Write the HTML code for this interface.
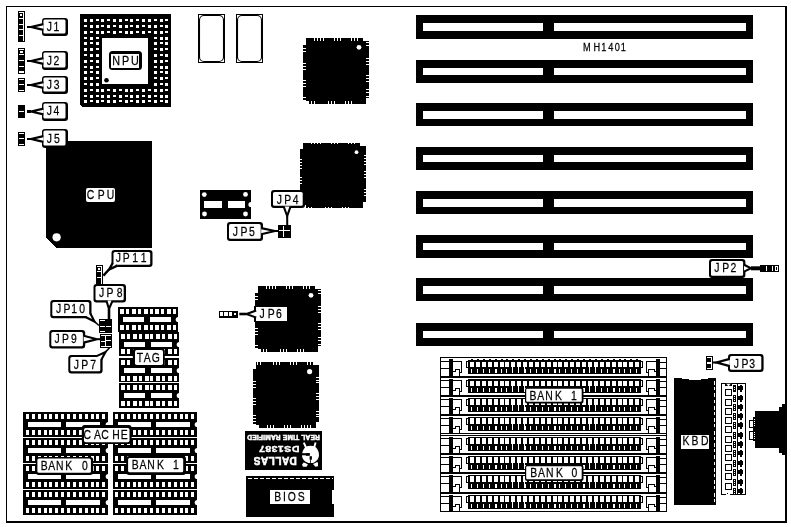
<!DOCTYPE html>
<html lang="en">
<head>
<meta charset="utf-8">
<title>MH1401 motherboard layout</title>
<style>
html,body{margin:0;padding:0;background:#fff;}
body{width:791px;height:527px;overflow:hidden;}
svg{display:block;filter:grayscale(1);}
svg text{font-family:"Liberation Sans",sans-serif;}
</style>
</head>
<body>
<svg width="791" height="527" viewBox="0 0 791 527" shape-rendering="crispEdges">
<rect x="0" y="0" width="791" height="527" fill="#fff"/>
<rect x="6" y="6" width="781" height="517" fill="#000" />
<rect x="7" y="7" width="778" height="514" fill="#fff" />
<path d="M46,141H152V248H56L46,238Z" fill="#000" stroke="none" stroke-width="1" />
<rect x="18" y="11" width="7" height="31" fill="#000" />
<rect x="23" y="12" width="1" height="29" fill="#fff" />
<rect x="19" y="12" width="4" height="1" fill="#fff" />
<rect x="20" y="14" width="2" height="2" fill="#fff" />
<rect x="19" y="18" width="5" height="1" fill="#fff" />
<rect x="19" y="24" width="5" height="1" fill="#fff" />
<rect x="19" y="29" width="5" height="1" fill="#fff" />
<rect x="19" y="35" width="5" height="1" fill="#fff" />
<rect x="18" y="48" width="7" height="26" fill="#000" />
<rect x="19" y="49" width="5" height="1" fill="#fff" />
<rect x="19" y="54" width="5" height="1" fill="#fff" />
<rect x="19" y="60" width="5" height="1" fill="#fff" />
<rect x="19" y="66" width="5" height="1" fill="#fff" />
<rect x="19" y="71" width="5" height="1" fill="#fff" />
<rect x="19" y="49" width="5" height="1" fill="#fff" />
<rect x="19" y="50" width="5" height="4" fill="#000" />
<rect x="20" y="51" width="3" height="2" fill="#fff" />
<rect x="19" y="72" width="5" height="1" fill="#fff" />
<rect x="18" y="78" width="7" height="14" fill="#000" />
<rect x="19" y="79" width="5" height="1" fill="#fff" />
<rect x="19" y="84" width="5" height="1" fill="#fff" />
<rect x="19" y="90" width="5" height="1" fill="#fff" />
<rect x="18" y="105" width="7" height="13" fill="#000" />
<rect x="19" y="111" width="5" height="1" fill="#fff" />
<rect x="18" y="132" width="7" height="14" fill="#000" />
<rect x="19" y="133" width="5" height="1" fill="#fff" />
<rect x="19" y="138" width="5" height="1" fill="#fff" />
<rect x="19" y="144" width="5" height="1" fill="#fff" />
<rect x="42" y="18" width="26" height="18" rx="3" fill="#000" shape-rendering="auto"/>
<rect x="43.4" y="19.4" width="22.1" height="14.1" rx="1.5" fill="#fff" shape-rendering="auto"/>
<polygon points="43.4,24.1 31,27 43.4,29.9" fill="#fff" shape-rendering="auto"/>
<polyline points="43.4,24.1 31,27 43.4,29.9" fill="none" stroke="#000" stroke-width="2.3" stroke-linejoin="miter" shape-rendering="auto"/>
<line x1="31" y1="27" x2="27" y2="27" stroke="#000" stroke-width="2" shape-rendering="auto"/>
<text transform="scale(0.8,1)" x="61.81 70.62" y="30.9" font-size="13" fill="#000" text-anchor="middle" stroke="#000" stroke-width="0.25">J1</text>
<rect x="42" y="51" width="26" height="19" rx="3" fill="#000" shape-rendering="auto"/>
<rect x="43.4" y="52.4" width="22.1" height="15.1" rx="1.5" fill="#fff" shape-rendering="auto"/>
<polygon points="43.4,58.1 31,61 43.4,63.9" fill="#fff" shape-rendering="auto"/>
<polyline points="43.4,58.1 31,61 43.4,63.9" fill="none" stroke="#000" stroke-width="2.3" stroke-linejoin="miter" shape-rendering="auto"/>
<line x1="31" y1="61" x2="27" y2="61" stroke="#000" stroke-width="2" shape-rendering="auto"/>
<text transform="scale(0.8,1)" x="61.81 70.62" y="64.8" font-size="13" fill="#000" text-anchor="middle" stroke="#000" stroke-width="0.25">J2</text>
<rect x="42" y="76" width="26" height="18" rx="3" fill="#000" shape-rendering="auto"/>
<rect x="43.4" y="77.4" width="22.1" height="14.1" rx="1.5" fill="#fff" shape-rendering="auto"/>
<polygon points="43.4,82.1 31,85 43.4,87.9" fill="#fff" shape-rendering="auto"/>
<polyline points="43.4,82.1 31,85 43.4,87.9" fill="none" stroke="#000" stroke-width="2.3" stroke-linejoin="miter" shape-rendering="auto"/>
<line x1="31" y1="85" x2="27" y2="85" stroke="#000" stroke-width="2" shape-rendering="auto"/>
<text transform="scale(0.8,1)" x="61.81 70.88" y="88.7" font-size="13" fill="#000" text-anchor="middle" stroke="#000" stroke-width="0.25">J3</text>
<rect x="42" y="102" width="26" height="19" rx="3" fill="#000" shape-rendering="auto"/>
<rect x="43.4" y="103.4" width="22.1" height="15.1" rx="1.5" fill="#fff" shape-rendering="auto"/>
<polygon points="43.4,108.6 31,111.5 43.4,114.4" fill="#fff" shape-rendering="auto"/>
<polyline points="43.4,108.6 31,111.5 43.4,114.4" fill="none" stroke="#000" stroke-width="2.3" stroke-linejoin="miter" shape-rendering="auto"/>
<line x1="31" y1="111.5" x2="27" y2="111.5" stroke="#000" stroke-width="3" shape-rendering="auto"/>
<text transform="scale(0.8,1)" x="61.81 70.50" y="115" font-size="13" fill="#000" text-anchor="middle" stroke="#000" stroke-width="0.25">J4</text>
<rect x="42" y="129" width="26" height="19" rx="3" fill="#000" shape-rendering="auto"/>
<rect x="43.4" y="130.4" width="22.1" height="15.1" rx="1.5" fill="#fff" shape-rendering="auto"/>
<polygon points="43.4,136.1 31,139 43.4,141.9" fill="#fff" shape-rendering="auto"/>
<polyline points="43.4,136.1 31,139 43.4,141.9" fill="none" stroke="#000" stroke-width="2.3" stroke-linejoin="miter" shape-rendering="auto"/>
<line x1="31" y1="139" x2="27" y2="139" stroke="#000" stroke-width="2" shape-rendering="auto"/>
<text transform="scale(0.8,1)" x="61.81 71.00" y="142.8" font-size="13" fill="#000" text-anchor="middle" stroke="#000" stroke-width="0.25">J5</text>
<path d="M80,14H171V107H82L80,105Z" fill="#000" stroke="none" stroke-width="1" />
<rect x="84" y="19" width="3" height="3" fill="#fff" />
<rect x="84" y="25" width="3" height="2" fill="#fff" />
<rect x="84" y="31" width="3" height="3" fill="#fff" />
<rect x="84" y="37" width="3" height="2" fill="#fff" />
<rect x="84" y="42" width="3" height="3" fill="#fff" />
<rect x="84" y="48" width="3" height="3" fill="#fff" />
<rect x="84" y="54" width="3" height="2" fill="#fff" />
<rect x="84" y="60" width="3" height="3" fill="#fff" />
<rect x="84" y="66" width="3" height="2" fill="#fff" />
<rect x="84" y="71" width="3" height="3" fill="#fff" />
<rect x="84" y="77" width="3" height="3" fill="#fff" />
<rect x="84" y="83" width="3" height="2" fill="#fff" />
<rect x="84" y="89" width="3" height="3" fill="#fff" />
<rect x="84" y="95" width="3" height="2" fill="#fff" />
<rect x="84" y="100" width="3" height="3" fill="#fff" />
<rect x="90" y="19" width="3" height="3" fill="#fff" />
<rect x="90" y="25" width="3" height="3" fill="#fff" />
<rect x="90" y="31" width="3" height="2" fill="#fff" />
<rect x="90" y="37" width="3" height="3" fill="#fff" />
<rect x="90" y="42" width="3" height="2" fill="#fff" />
<rect x="90" y="48" width="3" height="3" fill="#fff" />
<rect x="90" y="54" width="3" height="3" fill="#fff" />
<rect x="90" y="60" width="3" height="2" fill="#fff" />
<rect x="90" y="66" width="3" height="3" fill="#fff" />
<rect x="90" y="71" width="3" height="2" fill="#fff" />
<rect x="90" y="77" width="3" height="3" fill="#fff" />
<rect x="90" y="83" width="3" height="3" fill="#fff" />
<rect x="90" y="89" width="3" height="2" fill="#fff" />
<rect x="90" y="95" width="3" height="3" fill="#fff" />
<rect x="90" y="100" width="3" height="2" fill="#fff" />
<rect x="96" y="19" width="3" height="2" fill="#fff" />
<rect x="96" y="25" width="3" height="3" fill="#fff" />
<rect x="96" y="31" width="3" height="3" fill="#fff" />
<rect x="96" y="37" width="3" height="2" fill="#fff" />
<rect x="96" y="42" width="3" height="3" fill="#fff" />
<rect x="96" y="48" width="3" height="2" fill="#fff" />
<rect x="96" y="54" width="3" height="3" fill="#fff" />
<rect x="96" y="60" width="3" height="3" fill="#fff" />
<rect x="96" y="66" width="3" height="2" fill="#fff" />
<rect x="96" y="71" width="3" height="3" fill="#fff" />
<rect x="96" y="77" width="3" height="2" fill="#fff" />
<rect x="96" y="83" width="3" height="3" fill="#fff" />
<rect x="96" y="89" width="3" height="3" fill="#fff" />
<rect x="96" y="95" width="3" height="2" fill="#fff" />
<rect x="96" y="100" width="3" height="3" fill="#fff" />
<rect x="101" y="19" width="3" height="3" fill="#fff" />
<rect x="101" y="25" width="3" height="2" fill="#fff" />
<rect x="101" y="31" width="3" height="3" fill="#fff" />
<rect x="101" y="89" width="3" height="3" fill="#fff" />
<rect x="101" y="95" width="3" height="3" fill="#fff" />
<rect x="101" y="100" width="3" height="2" fill="#fff" />
<rect x="107" y="19" width="3" height="2" fill="#fff" />
<rect x="107" y="25" width="3" height="3" fill="#fff" />
<rect x="107" y="31" width="3" height="2" fill="#fff" />
<rect x="107" y="89" width="3" height="2" fill="#fff" />
<rect x="107" y="95" width="3" height="3" fill="#fff" />
<rect x="107" y="100" width="3" height="3" fill="#fff" />
<rect x="113" y="19" width="3" height="3" fill="#fff" />
<rect x="113" y="25" width="3" height="2" fill="#fff" />
<rect x="113" y="31" width="3" height="3" fill="#fff" />
<rect x="113" y="89" width="3" height="3" fill="#fff" />
<rect x="113" y="95" width="3" height="2" fill="#fff" />
<rect x="113" y="100" width="3" height="3" fill="#fff" />
<rect x="119" y="19" width="3" height="3" fill="#fff" />
<rect x="119" y="25" width="3" height="3" fill="#fff" />
<rect x="119" y="31" width="3" height="2" fill="#fff" />
<rect x="119" y="89" width="3" height="2" fill="#fff" />
<rect x="119" y="95" width="3" height="3" fill="#fff" />
<rect x="119" y="100" width="3" height="2" fill="#fff" />
<rect x="125" y="19" width="3" height="2" fill="#fff" />
<rect x="125" y="25" width="3" height="3" fill="#fff" />
<rect x="125" y="31" width="3" height="3" fill="#fff" />
<rect x="125" y="89" width="3" height="3" fill="#fff" />
<rect x="125" y="95" width="3" height="2" fill="#fff" />
<rect x="125" y="100" width="3" height="3" fill="#fff" />
<rect x="130" y="19" width="3" height="3" fill="#fff" />
<rect x="130" y="25" width="3" height="2" fill="#fff" />
<rect x="130" y="31" width="3" height="3" fill="#fff" />
<rect x="130" y="89" width="3" height="3" fill="#fff" />
<rect x="130" y="95" width="3" height="3" fill="#fff" />
<rect x="130" y="100" width="3" height="2" fill="#fff" />
<rect x="136" y="19" width="3" height="2" fill="#fff" />
<rect x="136" y="25" width="3" height="3" fill="#fff" />
<rect x="136" y="31" width="3" height="2" fill="#fff" />
<rect x="136" y="89" width="3" height="2" fill="#fff" />
<rect x="136" y="95" width="3" height="3" fill="#fff" />
<rect x="136" y="100" width="3" height="3" fill="#fff" />
<rect x="142" y="19" width="3" height="3" fill="#fff" />
<rect x="142" y="25" width="3" height="2" fill="#fff" />
<rect x="142" y="31" width="3" height="3" fill="#fff" />
<rect x="142" y="89" width="3" height="3" fill="#fff" />
<rect x="142" y="95" width="3" height="2" fill="#fff" />
<rect x="142" y="100" width="3" height="3" fill="#fff" />
<rect x="148" y="19" width="3" height="3" fill="#fff" />
<rect x="148" y="25" width="3" height="3" fill="#fff" />
<rect x="148" y="31" width="3" height="2" fill="#fff" />
<rect x="148" y="89" width="3" height="2" fill="#fff" />
<rect x="148" y="95" width="3" height="3" fill="#fff" />
<rect x="148" y="100" width="3" height="2" fill="#fff" />
<rect x="154" y="19" width="3" height="2" fill="#fff" />
<rect x="154" y="25" width="3" height="3" fill="#fff" />
<rect x="154" y="31" width="3" height="3" fill="#fff" />
<rect x="154" y="37" width="3" height="2" fill="#fff" />
<rect x="154" y="42" width="3" height="3" fill="#fff" />
<rect x="154" y="48" width="3" height="2" fill="#fff" />
<rect x="154" y="54" width="3" height="3" fill="#fff" />
<rect x="154" y="60" width="3" height="3" fill="#fff" />
<rect x="154" y="66" width="3" height="2" fill="#fff" />
<rect x="154" y="71" width="3" height="3" fill="#fff" />
<rect x="154" y="77" width="3" height="2" fill="#fff" />
<rect x="154" y="83" width="3" height="3" fill="#fff" />
<rect x="154" y="89" width="3" height="3" fill="#fff" />
<rect x="154" y="95" width="3" height="2" fill="#fff" />
<rect x="154" y="100" width="3" height="3" fill="#fff" />
<rect x="160" y="19" width="3" height="3" fill="#fff" />
<rect x="160" y="25" width="3" height="2" fill="#fff" />
<rect x="160" y="31" width="3" height="3" fill="#fff" />
<rect x="160" y="37" width="3" height="3" fill="#fff" />
<rect x="160" y="42" width="3" height="2" fill="#fff" />
<rect x="160" y="48" width="3" height="3" fill="#fff" />
<rect x="160" y="54" width="3" height="2" fill="#fff" />
<rect x="160" y="60" width="3" height="3" fill="#fff" />
<rect x="160" y="66" width="3" height="3" fill="#fff" />
<rect x="160" y="71" width="3" height="2" fill="#fff" />
<rect x="160" y="77" width="3" height="3" fill="#fff" />
<rect x="160" y="83" width="3" height="2" fill="#fff" />
<rect x="160" y="89" width="3" height="3" fill="#fff" />
<rect x="160" y="95" width="3" height="3" fill="#fff" />
<rect x="160" y="100" width="3" height="2" fill="#fff" />
<rect x="165" y="19" width="3" height="2" fill="#fff" />
<rect x="165" y="25" width="3" height="3" fill="#fff" />
<rect x="165" y="31" width="3" height="2" fill="#fff" />
<rect x="165" y="37" width="3" height="3" fill="#fff" />
<rect x="165" y="42" width="3" height="3" fill="#fff" />
<rect x="165" y="48" width="3" height="2" fill="#fff" />
<rect x="165" y="54" width="3" height="3" fill="#fff" />
<rect x="165" y="60" width="3" height="2" fill="#fff" />
<rect x="165" y="66" width="3" height="3" fill="#fff" />
<rect x="165" y="71" width="3" height="3" fill="#fff" />
<rect x="165" y="77" width="3" height="2" fill="#fff" />
<rect x="165" y="83" width="3" height="3" fill="#fff" />
<rect x="165" y="89" width="3" height="2" fill="#fff" />
<rect x="165" y="95" width="3" height="3" fill="#fff" />
<rect x="165" y="100" width="3" height="3" fill="#fff" />
<rect x="102" y="38" width="46" height="46" fill="#fff" />
<circle cx="106.5" cy="80.2" r="2.3" fill="#000" shape-rendering="auto"/>
<rect x="109" y="51" width="33" height="19" rx="3.5" fill="#000" shape-rendering="auto"/>
<rect x="111" y="54" width="28" height="14" fill="#fff" />
<text transform="scale(0.8,1)" x="145.12 156.94 168.75" y="64.9" font-size="13.5" fill="#000" text-anchor="middle" stroke="#000" stroke-width="0.25">NPU</text>
<rect x="198" y="14" width="27" height="49" fill="#000" />
<rect x="199" y="15" width="25" height="47" fill="#fff" />
<rect x="199.5" y="15.5" width="24" height="46" rx="4.5" fill="none" stroke="#000" stroke-width="1.1" shape-rendering="auto"/>
<rect x="236" y="14" width="27" height="49" fill="#000" />
<rect x="237" y="15" width="25" height="47" fill="#fff" />
<rect x="237.5" y="15.5" width="24" height="46" rx="4.5" fill="none" stroke="#000" stroke-width="1.1" shape-rendering="auto"/>
<path d="M306,38H363V41H369V98H366V104H309V101H306V100H303V44H306Z" fill="#000" stroke="none" stroke-width="1" />
<rect x="314" y="38" width="1" height="3" fill="#fff" />
<rect x="317" y="38" width="1" height="3" fill="#fff" />
<rect x="320" y="38" width="1" height="3" fill="#fff" />
<rect x="323" y="38" width="1" height="3" fill="#fff" />
<rect x="334" y="38" width="1" height="3" fill="#fff" />
<rect x="337" y="38" width="1" height="3" fill="#fff" />
<rect x="340" y="38" width="1" height="3" fill="#fff" />
<rect x="351" y="38" width="1" height="3" fill="#fff" />
<rect x="354" y="38" width="1" height="3" fill="#fff" />
<rect x="357" y="38" width="1" height="3" fill="#fff" />
<rect x="311" y="101" width="1" height="3" fill="#fff" />
<rect x="314" y="101" width="1" height="3" fill="#fff" />
<rect x="328" y="101" width="1" height="3" fill="#fff" />
<rect x="331" y="101" width="1" height="3" fill="#fff" />
<rect x="334" y="101" width="1" height="3" fill="#fff" />
<rect x="345" y="101" width="1" height="3" fill="#fff" />
<rect x="348" y="101" width="1" height="3" fill="#fff" />
<rect x="351" y="101" width="1" height="3" fill="#fff" />
<rect x="303" y="44" width="3" height="1" fill="#fff" />
<rect x="303" y="48" width="3" height="1" fill="#fff" />
<rect x="303" y="51" width="3" height="1" fill="#fff" />
<rect x="303" y="63" width="3" height="1" fill="#fff" />
<rect x="303" y="66" width="3" height="1" fill="#fff" />
<rect x="303" y="69" width="3" height="1" fill="#fff" />
<rect x="303" y="80" width="3" height="1" fill="#fff" />
<rect x="303" y="83" width="3" height="1" fill="#fff" />
<rect x="303" y="86" width="3" height="1" fill="#fff" />
<rect x="303" y="97" width="3" height="1" fill="#fff" />
<rect x="366" y="42" width="3" height="1" fill="#fff" />
<rect x="366" y="45" width="3" height="1" fill="#fff" />
<rect x="366" y="58" width="3" height="1" fill="#fff" />
<rect x="366" y="61" width="3" height="1" fill="#fff" />
<rect x="366" y="64" width="3" height="1" fill="#fff" />
<rect x="366" y="75" width="3" height="1" fill="#fff" />
<rect x="366" y="78" width="3" height="1" fill="#fff" />
<rect x="366" y="81" width="3" height="1" fill="#fff" />
<rect x="366" y="89" width="3" height="1" fill="#fff" />
<rect x="366" y="92" width="3" height="1" fill="#fff" />
<rect x="366" y="96" width="3" height="1" fill="#fff" />
<circle cx="359" cy="47.3" r="2.4" fill="#fff" shape-rendering="auto"/>
<path d="M303,143H360V146H366V202H363V208H306V205H303V204H300V149H303Z" fill="#000" stroke="none" stroke-width="1" />
<rect x="311" y="143" width="1" height="1" fill="#fff" />
<rect x="314" y="143" width="1" height="1" fill="#fff" />
<rect x="317" y="143" width="1" height="1" fill="#fff" />
<rect x="320" y="143" width="1" height="1" fill="#fff" />
<rect x="331" y="143" width="1" height="1" fill="#fff" />
<rect x="334" y="143" width="1" height="1" fill="#fff" />
<rect x="337" y="143" width="1" height="1" fill="#fff" />
<rect x="348" y="143" width="1" height="1" fill="#fff" />
<rect x="351" y="143" width="1" height="1" fill="#fff" />
<rect x="354" y="143" width="1" height="1" fill="#fff" />
<rect x="308" y="207" width="1" height="1" fill="#fff" />
<rect x="311" y="207" width="1" height="1" fill="#fff" />
<rect x="325" y="207" width="1" height="1" fill="#fff" />
<rect x="328" y="207" width="1" height="1" fill="#fff" />
<rect x="331" y="207" width="1" height="1" fill="#fff" />
<rect x="342" y="207" width="1" height="1" fill="#fff" />
<rect x="345" y="207" width="1" height="1" fill="#fff" />
<rect x="348" y="207" width="1" height="1" fill="#fff" />
<rect x="300" y="159" width="2" height="1" fill="#fff" />
<rect x="300" y="162" width="2" height="1" fill="#fff" />
<rect x="300" y="165" width="2" height="1" fill="#fff" />
<rect x="300" y="168" width="2" height="1" fill="#fff" />
<rect x="300" y="177" width="2" height="1" fill="#fff" />
<rect x="300" y="180" width="2" height="1" fill="#fff" />
<rect x="300" y="183" width="2" height="1" fill="#fff" />
<rect x="364" y="155" width="2" height="1" fill="#fff" />
<rect x="364" y="158" width="2" height="1" fill="#fff" />
<rect x="364" y="161" width="2" height="1" fill="#fff" />
<rect x="364" y="164" width="2" height="1" fill="#fff" />
<rect x="364" y="171" width="2" height="1" fill="#fff" />
<rect x="364" y="174" width="2" height="1" fill="#fff" />
<rect x="364" y="177" width="2" height="1" fill="#fff" />
<rect x="364" y="189" width="2" height="1" fill="#fff" />
<rect x="364" y="192" width="2" height="1" fill="#fff" />
<rect x="364" y="195" width="2" height="1" fill="#fff" />
<circle cx="356.5" cy="152.2" r="1.9" fill="#fff" shape-rendering="auto"/>
<path d="M258,286H315V289H321V346H318V352H261V349H258V348H255V292H258Z" fill="#000" stroke="none" stroke-width="1" />
<rect x="266" y="286" width="1" height="3" fill="#fff" />
<rect x="269" y="286" width="1" height="3" fill="#fff" />
<rect x="272" y="286" width="1" height="3" fill="#fff" />
<rect x="275" y="286" width="1" height="3" fill="#fff" />
<rect x="286" y="286" width="1" height="3" fill="#fff" />
<rect x="289" y="286" width="1" height="3" fill="#fff" />
<rect x="292" y="286" width="1" height="3" fill="#fff" />
<rect x="303" y="286" width="1" height="3" fill="#fff" />
<rect x="306" y="286" width="1" height="3" fill="#fff" />
<rect x="309" y="286" width="1" height="3" fill="#fff" />
<rect x="263" y="349" width="1" height="3" fill="#fff" />
<rect x="266" y="349" width="1" height="3" fill="#fff" />
<rect x="280" y="349" width="1" height="3" fill="#fff" />
<rect x="283" y="349" width="1" height="3" fill="#fff" />
<rect x="286" y="349" width="1" height="3" fill="#fff" />
<rect x="297" y="349" width="1" height="3" fill="#fff" />
<rect x="300" y="349" width="1" height="3" fill="#fff" />
<rect x="303" y="349" width="1" height="3" fill="#fff" />
<rect x="255" y="292" width="3" height="1" fill="#fff" />
<rect x="255" y="296" width="3" height="1" fill="#fff" />
<rect x="255" y="299" width="3" height="1" fill="#fff" />
<rect x="255" y="311" width="3" height="1" fill="#fff" />
<rect x="255" y="314" width="3" height="1" fill="#fff" />
<rect x="255" y="317" width="3" height="1" fill="#fff" />
<rect x="255" y="328" width="3" height="1" fill="#fff" />
<rect x="255" y="331" width="3" height="1" fill="#fff" />
<rect x="255" y="334" width="3" height="1" fill="#fff" />
<rect x="255" y="345" width="3" height="1" fill="#fff" />
<rect x="318" y="290" width="3" height="1" fill="#fff" />
<rect x="318" y="293" width="3" height="1" fill="#fff" />
<rect x="318" y="306" width="3" height="1" fill="#fff" />
<rect x="318" y="309" width="3" height="1" fill="#fff" />
<rect x="318" y="312" width="3" height="1" fill="#fff" />
<rect x="318" y="323" width="3" height="1" fill="#fff" />
<rect x="318" y="326" width="3" height="1" fill="#fff" />
<rect x="318" y="329" width="3" height="1" fill="#fff" />
<rect x="318" y="337" width="3" height="1" fill="#fff" />
<rect x="318" y="340" width="3" height="1" fill="#fff" />
<rect x="318" y="344" width="3" height="1" fill="#fff" />
<circle cx="311" cy="295.3" r="2.4" fill="#fff" shape-rendering="auto"/>
<path d="M256,362H313V365H319V422H316V428H259V425H256V424H253V368H256Z" fill="#000" stroke="none" stroke-width="1" />
<rect x="257" y="362" width="1" height="3" fill="#fff" />
<rect x="260" y="362" width="1" height="3" fill="#fff" />
<rect x="273" y="362" width="1" height="3" fill="#fff" />
<rect x="276" y="362" width="1" height="3" fill="#fff" />
<rect x="279" y="362" width="1" height="3" fill="#fff" />
<rect x="290" y="362" width="1" height="3" fill="#fff" />
<rect x="293" y="362" width="1" height="3" fill="#fff" />
<rect x="296" y="362" width="1" height="3" fill="#fff" />
<rect x="307" y="362" width="1" height="3" fill="#fff" />
<rect x="310" y="362" width="1" height="3" fill="#fff" />
<rect x="313" y="362" width="1" height="3" fill="#fff" />
<rect x="267" y="425" width="1" height="3" fill="#fff" />
<rect x="270" y="425" width="1" height="3" fill="#fff" />
<rect x="273" y="425" width="1" height="3" fill="#fff" />
<rect x="284" y="425" width="1" height="3" fill="#fff" />
<rect x="287" y="425" width="1" height="3" fill="#fff" />
<rect x="290" y="425" width="1" height="3" fill="#fff" />
<rect x="301" y="425" width="1" height="3" fill="#fff" />
<rect x="304" y="425" width="1" height="3" fill="#fff" />
<rect x="307" y="425" width="1" height="3" fill="#fff" />
<rect x="310" y="425" width="1" height="3" fill="#fff" />
<rect x="253" y="368" width="3" height="1" fill="#fff" />
<rect x="253" y="381" width="3" height="1" fill="#fff" />
<rect x="253" y="384" width="3" height="1" fill="#fff" />
<rect x="253" y="387" width="3" height="1" fill="#fff" />
<rect x="253" y="398" width="3" height="1" fill="#fff" />
<rect x="253" y="401" width="3" height="1" fill="#fff" />
<rect x="253" y="404" width="3" height="1" fill="#fff" />
<rect x="253" y="415" width="3" height="1" fill="#fff" />
<rect x="253" y="418" width="3" height="1" fill="#fff" />
<rect x="253" y="421" width="3" height="1" fill="#fff" />
<rect x="316" y="377" width="3" height="1" fill="#fff" />
<rect x="316" y="380" width="3" height="1" fill="#fff" />
<rect x="316" y="382" width="3" height="1" fill="#fff" />
<rect x="316" y="393" width="3" height="1" fill="#fff" />
<rect x="316" y="396" width="3" height="1" fill="#fff" />
<rect x="316" y="399" width="3" height="1" fill="#fff" />
<rect x="316" y="411" width="3" height="1" fill="#fff" />
<rect x="316" y="414" width="3" height="1" fill="#fff" />
<rect x="316" y="416" width="3" height="1" fill="#fff" />
<circle cx="309.6" cy="371.6" r="2.6" fill="#fff" shape-rendering="auto"/>
<circle cx="56.6" cy="237.3" r="4.1" fill="#fff" shape-rendering="auto"/>
<rect x="86" y="188" width="29" height="14" rx="2" fill="#fff" shape-rendering="auto"/>
<text transform="scale(0.8,1)" x="113.19 126.69 138.25" y="199.2" font-size="13" fill="#000" text-anchor="middle" stroke="#000" stroke-width="0.25">CPU</text>
<rect x="200" y="190" width="51" height="29" fill="#000" />
<circle cx="204.3" cy="194.6" r="2.4" fill="#fff" shape-rendering="auto"/>
<circle cx="245.5" cy="194.4" r="2.4" fill="#fff" shape-rendering="auto"/>
<circle cx="204.5" cy="214" r="2.4" fill="#fff" shape-rendering="auto"/>
<circle cx="245.5" cy="214" r="2.4" fill="#fff" shape-rendering="auto"/>
<rect x="204" y="201" width="18" height="7" fill="#fff" />
<rect x="228" y="201" width="17" height="7" fill="#fff" />
<circle cx="251" cy="204.5" r="2.6" fill="#fff" shape-rendering="auto"/>
<rect x="271" y="190" width="34" height="18" rx="3" fill="#000" shape-rendering="auto"/>
<rect x="273" y="192" width="29.7" height="13.7" rx="1.5" fill="#fff" shape-rendering="auto"/>
<polygon points="283.6,206.4 287.2,216 290.6,206.4" fill="#fff" shape-rendering="auto"/>
<polyline points="283.6,206.4 287.2,216 290.6,206.4" fill="none" stroke="#000" stroke-width="2.1" stroke-linejoin="miter" shape-rendering="auto"/>
<line x1="287.2" y1="216" x2="287.2" y2="225" stroke="#000" stroke-width="2" shape-rendering="auto"/>
<text transform="scale(0.8,1)" x="349.25 359.62 369.50" y="203.8" font-size="13" fill="#000" text-anchor="middle" stroke="#000" stroke-width="0.25">JP4</text>
<rect x="227" y="222" width="36" height="19" rx="3" fill="#000" shape-rendering="auto"/>
<rect x="229" y="224" width="31.7" height="14.7" rx="1.5" fill="#fff" shape-rendering="auto"/>
<polygon points="261.2,228.2 275,231 261.2,234.2" fill="#fff" shape-rendering="auto"/>
<polyline points="261.2,228.2 275,231 261.2,234.2" fill="none" stroke="#000" stroke-width="2.2" stroke-linejoin="miter" shape-rendering="auto"/>
<line x1="275" y1="231" x2="278" y2="231" stroke="#000" stroke-width="2" shape-rendering="auto"/>
<text transform="scale(0.8,1)" x="294.31 304.94 314.94" y="235.6" font-size="13" fill="#000" text-anchor="middle" stroke="#000" stroke-width="0.25">JP5</text>
<rect x="278" y="225" width="13" height="13" fill="#000" />
<rect x="283" y="226" width="1" height="11" fill="#fff" />
<rect x="279" y="230" width="11" height="1" fill="#fff" />
<rect x="219" y="311" width="19" height="7" fill="#000" />
<rect x="220" y="312" width="17" height="5" fill="#fff" />
<rect x="219" y="316" width="19" height="2" fill="#000" />
<rect x="223" y="312" width="1" height="4" fill="#000" />
<rect x="228" y="312" width="1" height="4" fill="#000" />
<rect x="232" y="312" width="1" height="4" fill="#000" />
<rect x="233" y="312" width="4" height="4" fill="#000" />
<rect x="234" y="313" width="2" height="2" fill="#fff" />
<rect x="254" y="306" width="2" height="16" fill="#000" />
<rect x="256" y="307" width="31" height="14" fill="#fff" />
<polygon points="256.2,310.6 246.5,314 256.2,317.6" fill="#fff" shape-rendering="auto"/>
<polyline points="256.2,310.6 246.5,314 256.2,317.6" fill="none" stroke="#000" stroke-width="2.1" stroke-linejoin="miter" shape-rendering="auto"/>
<line x1="246.5" y1="314" x2="239.3" y2="314" stroke="#000" stroke-width="2.6" shape-rendering="auto"/>
<rect x="96" y="265" width="7" height="20" fill="#000" />
<rect x="101" y="266" width="1" height="18" fill="#fff" />
<rect x="97" y="266" width="4" height="1" fill="#fff" />
<rect x="98" y="268" width="2" height="2" fill="#fff" />
<rect x="97" y="271" width="4" height="1" fill="#fff" />
<rect x="97" y="277" width="4" height="1" fill="#fff" />
<rect x="111.5" y="250" width="41" height="17" rx="3" fill="#000" shape-rendering="auto"/>
<rect x="113.5" y="252" width="36.7" height="12.7" rx="1.5" fill="#fff" shape-rendering="auto"/>
<polygon points="112.8,263 109,269.5 117.4,265.6" fill="#fff" shape-rendering="auto"/>
<polyline points="112.8,263 109,269.5 117.4,265.6" fill="none" stroke="#000" stroke-width="2.4" stroke-linejoin="miter" shape-rendering="auto"/>
<line x1="109" y1="269.5" x2="103.4" y2="275.6" stroke="#000" stroke-width="2.4" shape-rendering="auto"/>
<text transform="scale(0.8,1)" x="147.81 157.94 169.06 179.50" y="261.6" font-size="13" fill="#000" text-anchor="middle" stroke="#000" stroke-width="0.25">JP11</text>
<rect x="99" y="319" width="13" height="14" fill="#000" />
<rect x="100" y="320" width="5" height="1" fill="#fff" />
<rect x="100" y="326" width="5" height="1" fill="#fff" />
<rect x="100" y="331" width="5" height="1" fill="#fff" />
<rect x="106" y="326" width="5" height="1" fill="#fff" />
<rect x="100" y="334" width="12" height="14" fill="#000" />
<rect x="101" y="335" width="4" height="1" fill="#fff" />
<rect x="101" y="341" width="4" height="1" fill="#fff" />
<rect x="101" y="346" width="4" height="1" fill="#fff" />
<rect x="105" y="335" width="1" height="12" fill="#fff" />
<rect x="106" y="335" width="5" height="1" fill="#fff" />
<rect x="106" y="340" width="5" height="1" fill="#fff" />
<rect x="106" y="346" width="5" height="1" fill="#fff" />
<rect x="93.5" y="284" width="32.5" height="18.5" rx="3" fill="#000" shape-rendering="auto"/>
<rect x="95.5" y="286" width="28.2" height="14.2" rx="1.5" fill="#fff" shape-rendering="auto"/>
<polygon points="106.4,300.6 109,309 112.6,300.6" fill="#fff" shape-rendering="auto"/>
<polyline points="106.4,300.6 109,309 112.6,300.6" fill="none" stroke="#000" stroke-width="2.1" stroke-linejoin="miter" shape-rendering="auto"/>
<line x1="109" y1="309" x2="109" y2="319" stroke="#000" stroke-width="2.6" shape-rendering="auto"/>
<text transform="scale(0.8,1)" x="127.00 137.56 149.62" y="296.8" font-size="13" fill="#000" text-anchor="middle" stroke="#000" stroke-width="0.25">JP8</text>
<rect x="50.3" y="300" width="41.2" height="18.3" rx="3" fill="#000" shape-rendering="auto"/>
<rect x="52.3" y="302" width="36.9" height="14" rx="1.5" fill="#fff" shape-rendering="auto"/>
<polygon points="90.4,313.5 94.5,321.5 86,317.2" fill="#fff" shape-rendering="auto"/>
<polyline points="90.4,313.5 94.5,321.5 86,317.2" fill="none" stroke="#000" stroke-width="2.1" stroke-linejoin="miter" shape-rendering="auto"/>
<line x1="94.5" y1="321.5" x2="98.9" y2="325.5" stroke="#000" stroke-width="1.6" shape-rendering="auto"/>
<text transform="scale(0.8,1)" x="73.25 83.69 92.69 102.56" y="312.8" font-size="13" fill="#000" text-anchor="middle" stroke="#000" stroke-width="0.25">JP10</text>
<rect x="49.3" y="330" width="35.9" height="18.5" rx="3" fill="#000" shape-rendering="auto"/>
<rect x="51.3" y="332" width="31.6" height="14.2" rx="1.5" fill="#fff" shape-rendering="auto"/>
<polygon points="83.6,335.8 97,339.2 83.6,342.6" fill="#fff" shape-rendering="auto"/>
<polyline points="83.6,335.8 97,339.2 83.6,342.6" fill="none" stroke="#000" stroke-width="2.2" stroke-linejoin="miter" shape-rendering="auto"/>
<line x1="97" y1="339.2" x2="100" y2="339.2" stroke="#000" stroke-width="2" shape-rendering="auto"/>
<text transform="scale(0.8,1)" x="71.50 81.94 92.38" y="342.9" font-size="13" fill="#000" text-anchor="middle" stroke="#000" stroke-width="0.25">JP9</text>
<rect x="68.3" y="355" width="34.3" height="18.5" rx="3" fill="#000" shape-rendering="auto"/>
<rect x="70.3" y="357" width="30" height="14.2" rx="1.5" fill="#fff" shape-rendering="auto"/>
<polygon points="96,356.4 105.5,352 101.2,360" fill="#fff" shape-rendering="auto"/>
<polyline points="96,356.4 105.5,352 101.2,360" fill="none" stroke="#000" stroke-width="2.1" stroke-linejoin="miter" shape-rendering="auto"/>
<line x1="105.5" y1="352" x2="109.6" y2="347.8" stroke="#000" stroke-width="1.6" shape-rendering="auto"/>
<text transform="scale(0.8,1)" x="95.44 105.75 116.44" y="368.6" font-size="13" fill="#000" text-anchor="middle" stroke="#000" stroke-width="0.25">JP7</text>
<rect x="118" y="307" width="60" height="25" fill="#000" />
<rect x="120" y="309" width="4" height="5" fill="#fff" />
<rect x="120" y="325" width="4" height="5" fill="#fff" />
<rect x="126" y="309" width="3" height="5" fill="#fff" />
<rect x="126" y="325" width="3" height="5" fill="#fff" />
<rect x="132" y="309" width="4" height="5" fill="#fff" />
<rect x="132" y="325" width="4" height="5" fill="#fff" />
<rect x="138" y="309" width="3" height="5" fill="#fff" />
<rect x="138" y="325" width="3" height="5" fill="#fff" />
<rect x="144" y="309" width="4" height="5" fill="#fff" />
<rect x="144" y="325" width="4" height="5" fill="#fff" />
<rect x="150" y="309" width="3" height="5" fill="#fff" />
<rect x="150" y="325" width="3" height="5" fill="#fff" />
<rect x="155" y="309" width="4" height="5" fill="#fff" />
<rect x="155" y="325" width="4" height="5" fill="#fff" />
<rect x="161" y="309" width="3" height="5" fill="#fff" />
<rect x="161" y="325" width="3" height="5" fill="#fff" />
<rect x="167" y="309" width="4" height="5" fill="#fff" />
<rect x="167" y="325" width="4" height="5" fill="#fff" />
<rect x="173" y="309" width="3" height="5" fill="#fff" />
<rect x="173" y="325" width="3" height="5" fill="#fff" />
<rect x="123" y="317" width="21" height="5" fill="#fff" />
<rect x="150" y="317" width="21" height="5" fill="#fff" />
<circle cx="178.3" cy="319.5" r="2.6" fill="#fff" shape-rendering="auto"/>
<rect x="119" y="332" width="60" height="24" fill="#000" />
<rect x="121" y="334" width="4" height="5" fill="#fff" />
<rect x="121" y="349" width="4" height="5" fill="#fff" />
<rect x="127" y="334" width="3" height="5" fill="#fff" />
<rect x="127" y="349" width="3" height="5" fill="#fff" />
<rect x="133" y="334" width="4" height="5" fill="#fff" />
<rect x="133" y="349" width="4" height="5" fill="#fff" />
<rect x="139" y="334" width="3" height="5" fill="#fff" />
<rect x="139" y="349" width="3" height="5" fill="#fff" />
<rect x="145" y="334" width="4" height="5" fill="#fff" />
<rect x="145" y="349" width="4" height="5" fill="#fff" />
<rect x="150" y="334" width="3" height="5" fill="#fff" />
<rect x="150" y="349" width="3" height="5" fill="#fff" />
<rect x="156" y="334" width="4" height="5" fill="#fff" />
<rect x="156" y="349" width="4" height="5" fill="#fff" />
<rect x="162" y="334" width="3" height="5" fill="#fff" />
<rect x="162" y="349" width="3" height="5" fill="#fff" />
<rect x="168" y="334" width="4" height="5" fill="#fff" />
<rect x="168" y="349" width="4" height="5" fill="#fff" />
<rect x="174" y="334" width="3" height="5" fill="#fff" />
<rect x="174" y="349" width="3" height="5" fill="#fff" />
<rect x="124" y="342" width="21" height="5" fill="#fff" />
<rect x="151" y="342" width="21" height="5" fill="#fff" />
<circle cx="179.3" cy="344.5" r="2.6" fill="#fff" shape-rendering="auto"/>
<rect x="119" y="358" width="60" height="25" fill="#000" />
<rect x="121" y="360" width="4" height="5" fill="#fff" />
<rect x="121" y="376" width="4" height="5" fill="#fff" />
<rect x="127" y="360" width="3" height="5" fill="#fff" />
<rect x="127" y="376" width="3" height="5" fill="#fff" />
<rect x="133" y="360" width="4" height="5" fill="#fff" />
<rect x="133" y="376" width="4" height="5" fill="#fff" />
<rect x="139" y="360" width="3" height="5" fill="#fff" />
<rect x="139" y="376" width="3" height="5" fill="#fff" />
<rect x="145" y="360" width="4" height="5" fill="#fff" />
<rect x="145" y="376" width="4" height="5" fill="#fff" />
<rect x="150" y="360" width="3" height="5" fill="#fff" />
<rect x="150" y="376" width="3" height="5" fill="#fff" />
<rect x="156" y="360" width="4" height="5" fill="#fff" />
<rect x="156" y="376" width="4" height="5" fill="#fff" />
<rect x="162" y="360" width="3" height="5" fill="#fff" />
<rect x="162" y="376" width="3" height="5" fill="#fff" />
<rect x="168" y="360" width="4" height="5" fill="#fff" />
<rect x="168" y="376" width="4" height="5" fill="#fff" />
<rect x="174" y="360" width="3" height="5" fill="#fff" />
<rect x="174" y="376" width="3" height="5" fill="#fff" />
<rect x="124" y="368" width="21" height="5" fill="#fff" />
<rect x="151" y="368" width="21" height="5" fill="#fff" />
<circle cx="179.3" cy="370.5" r="2.6" fill="#fff" shape-rendering="auto"/>
<rect x="119" y="383" width="60" height="25" fill="#000" />
<rect x="121" y="385" width="4" height="5" fill="#fff" />
<rect x="121" y="401" width="4" height="5" fill="#fff" />
<rect x="127" y="385" width="3" height="5" fill="#fff" />
<rect x="127" y="401" width="3" height="5" fill="#fff" />
<rect x="133" y="385" width="4" height="5" fill="#fff" />
<rect x="133" y="401" width="4" height="5" fill="#fff" />
<rect x="139" y="385" width="3" height="5" fill="#fff" />
<rect x="139" y="401" width="3" height="5" fill="#fff" />
<rect x="145" y="385" width="4" height="5" fill="#fff" />
<rect x="145" y="401" width="4" height="5" fill="#fff" />
<rect x="150" y="385" width="3" height="5" fill="#fff" />
<rect x="150" y="401" width="3" height="5" fill="#fff" />
<rect x="156" y="385" width="4" height="5" fill="#fff" />
<rect x="156" y="401" width="4" height="5" fill="#fff" />
<rect x="162" y="385" width="3" height="5" fill="#fff" />
<rect x="162" y="401" width="3" height="5" fill="#fff" />
<rect x="168" y="385" width="4" height="5" fill="#fff" />
<rect x="168" y="401" width="4" height="5" fill="#fff" />
<rect x="174" y="385" width="3" height="5" fill="#fff" />
<rect x="174" y="401" width="3" height="5" fill="#fff" />
<rect x="124" y="393" width="21" height="5" fill="#fff" />
<rect x="151" y="393" width="21" height="5" fill="#fff" />
<circle cx="179.3" cy="395.5" r="2.6" fill="#fff" shape-rendering="auto"/>
<rect x="118" y="357" width="62" height="1" fill="#fff" />
<rect x="132.8" y="348.6" width="32" height="18" rx="2.5" fill="#000" shape-rendering="auto"/>
<rect x="135" y="350" width="28" height="15" rx="1.8" fill="#fff" shape-rendering="auto"/>
<text transform="scale(0.8,1)" x="174.87 183.94 194.88" y="361.6" font-size="13" fill="#000" text-anchor="middle" stroke="#000" stroke-width="0.25">TAG</text>
<rect x="23" y="412" width="85" height="25" fill="#000" />
<rect x="26" y="414" width="3" height="5" fill="#fff" />
<rect x="26" y="430" width="3" height="5" fill="#fff" />
<rect x="32" y="414" width="3" height="5" fill="#fff" />
<rect x="32" y="430" width="3" height="5" fill="#fff" />
<rect x="38" y="414" width="3" height="5" fill="#fff" />
<rect x="38" y="430" width="3" height="5" fill="#fff" />
<rect x="44" y="414" width="3" height="5" fill="#fff" />
<rect x="44" y="430" width="3" height="5" fill="#fff" />
<rect x="49" y="414" width="3" height="5" fill="#fff" />
<rect x="49" y="430" width="3" height="5" fill="#fff" />
<rect x="55" y="414" width="3" height="5" fill="#fff" />
<rect x="55" y="430" width="3" height="5" fill="#fff" />
<rect x="61" y="414" width="3" height="5" fill="#fff" />
<rect x="61" y="430" width="3" height="5" fill="#fff" />
<rect x="67" y="414" width="3" height="5" fill="#fff" />
<rect x="67" y="430" width="3" height="5" fill="#fff" />
<rect x="73" y="414" width="3" height="5" fill="#fff" />
<rect x="73" y="430" width="3" height="5" fill="#fff" />
<rect x="79" y="414" width="3" height="5" fill="#fff" />
<rect x="79" y="430" width="3" height="5" fill="#fff" />
<rect x="85" y="414" width="3" height="5" fill="#fff" />
<rect x="85" y="430" width="3" height="5" fill="#fff" />
<rect x="91" y="414" width="3" height="5" fill="#fff" />
<rect x="91" y="430" width="3" height="5" fill="#fff" />
<rect x="96" y="414" width="3" height="5" fill="#fff" />
<rect x="96" y="430" width="3" height="5" fill="#fff" />
<rect x="102" y="414" width="3" height="5" fill="#fff" />
<rect x="102" y="430" width="3" height="5" fill="#fff" />
<rect x="28" y="422" width="33" height="5" fill="#fff" />
<rect x="66" y="422" width="34" height="5" fill="#fff" />
<circle cx="108.3" cy="424.5" r="2.6" fill="#fff" shape-rendering="auto"/>
<rect x="23" y="438" width="85" height="25" fill="#000" />
<rect x="26" y="440" width="3" height="5" fill="#fff" />
<rect x="26" y="456" width="3" height="5" fill="#fff" />
<rect x="32" y="440" width="3" height="5" fill="#fff" />
<rect x="32" y="456" width="3" height="5" fill="#fff" />
<rect x="38" y="440" width="3" height="5" fill="#fff" />
<rect x="38" y="456" width="3" height="5" fill="#fff" />
<rect x="44" y="440" width="3" height="5" fill="#fff" />
<rect x="44" y="456" width="3" height="5" fill="#fff" />
<rect x="49" y="440" width="3" height="5" fill="#fff" />
<rect x="49" y="456" width="3" height="5" fill="#fff" />
<rect x="55" y="440" width="3" height="5" fill="#fff" />
<rect x="55" y="456" width="3" height="5" fill="#fff" />
<rect x="61" y="440" width="3" height="5" fill="#fff" />
<rect x="61" y="456" width="3" height="5" fill="#fff" />
<rect x="67" y="440" width="3" height="5" fill="#fff" />
<rect x="67" y="456" width="3" height="5" fill="#fff" />
<rect x="73" y="440" width="3" height="5" fill="#fff" />
<rect x="73" y="456" width="3" height="5" fill="#fff" />
<rect x="79" y="440" width="3" height="5" fill="#fff" />
<rect x="79" y="456" width="3" height="5" fill="#fff" />
<rect x="85" y="440" width="3" height="5" fill="#fff" />
<rect x="85" y="456" width="3" height="5" fill="#fff" />
<rect x="91" y="440" width="3" height="5" fill="#fff" />
<rect x="91" y="456" width="3" height="5" fill="#fff" />
<rect x="96" y="440" width="3" height="5" fill="#fff" />
<rect x="96" y="456" width="3" height="5" fill="#fff" />
<rect x="102" y="440" width="3" height="5" fill="#fff" />
<rect x="102" y="456" width="3" height="5" fill="#fff" />
<rect x="28" y="448" width="33" height="5" fill="#fff" />
<rect x="66" y="448" width="34" height="5" fill="#fff" />
<circle cx="108.3" cy="450.5" r="2.6" fill="#fff" shape-rendering="auto"/>
<rect x="23" y="464" width="85" height="25" fill="#000" />
<rect x="26" y="466" width="3" height="5" fill="#fff" />
<rect x="26" y="482" width="3" height="5" fill="#fff" />
<rect x="32" y="466" width="3" height="5" fill="#fff" />
<rect x="32" y="482" width="3" height="5" fill="#fff" />
<rect x="38" y="466" width="3" height="5" fill="#fff" />
<rect x="38" y="482" width="3" height="5" fill="#fff" />
<rect x="44" y="466" width="3" height="5" fill="#fff" />
<rect x="44" y="482" width="3" height="5" fill="#fff" />
<rect x="49" y="466" width="3" height="5" fill="#fff" />
<rect x="49" y="482" width="3" height="5" fill="#fff" />
<rect x="55" y="466" width="3" height="5" fill="#fff" />
<rect x="55" y="482" width="3" height="5" fill="#fff" />
<rect x="61" y="466" width="3" height="5" fill="#fff" />
<rect x="61" y="482" width="3" height="5" fill="#fff" />
<rect x="67" y="466" width="3" height="5" fill="#fff" />
<rect x="67" y="482" width="3" height="5" fill="#fff" />
<rect x="73" y="466" width="3" height="5" fill="#fff" />
<rect x="73" y="482" width="3" height="5" fill="#fff" />
<rect x="79" y="466" width="3" height="5" fill="#fff" />
<rect x="79" y="482" width="3" height="5" fill="#fff" />
<rect x="85" y="466" width="3" height="5" fill="#fff" />
<rect x="85" y="482" width="3" height="5" fill="#fff" />
<rect x="91" y="466" width="3" height="5" fill="#fff" />
<rect x="91" y="482" width="3" height="5" fill="#fff" />
<rect x="96" y="466" width="3" height="5" fill="#fff" />
<rect x="96" y="482" width="3" height="5" fill="#fff" />
<rect x="102" y="466" width="3" height="5" fill="#fff" />
<rect x="102" y="482" width="3" height="5" fill="#fff" />
<rect x="28" y="474" width="33" height="5" fill="#fff" />
<rect x="66" y="474" width="34" height="5" fill="#fff" />
<circle cx="108.3" cy="476.5" r="2.6" fill="#fff" shape-rendering="auto"/>
<rect x="23" y="490" width="85" height="25" fill="#000" />
<rect x="26" y="492" width="3" height="5" fill="#fff" />
<rect x="26" y="508" width="3" height="5" fill="#fff" />
<rect x="32" y="492" width="3" height="5" fill="#fff" />
<rect x="32" y="508" width="3" height="5" fill="#fff" />
<rect x="38" y="492" width="3" height="5" fill="#fff" />
<rect x="38" y="508" width="3" height="5" fill="#fff" />
<rect x="44" y="492" width="3" height="5" fill="#fff" />
<rect x="44" y="508" width="3" height="5" fill="#fff" />
<rect x="49" y="492" width="3" height="5" fill="#fff" />
<rect x="49" y="508" width="3" height="5" fill="#fff" />
<rect x="55" y="492" width="3" height="5" fill="#fff" />
<rect x="55" y="508" width="3" height="5" fill="#fff" />
<rect x="61" y="492" width="3" height="5" fill="#fff" />
<rect x="61" y="508" width="3" height="5" fill="#fff" />
<rect x="67" y="492" width="3" height="5" fill="#fff" />
<rect x="67" y="508" width="3" height="5" fill="#fff" />
<rect x="73" y="492" width="3" height="5" fill="#fff" />
<rect x="73" y="508" width="3" height="5" fill="#fff" />
<rect x="79" y="492" width="3" height="5" fill="#fff" />
<rect x="79" y="508" width="3" height="5" fill="#fff" />
<rect x="85" y="492" width="3" height="5" fill="#fff" />
<rect x="85" y="508" width="3" height="5" fill="#fff" />
<rect x="91" y="492" width="3" height="5" fill="#fff" />
<rect x="91" y="508" width="3" height="5" fill="#fff" />
<rect x="96" y="492" width="3" height="5" fill="#fff" />
<rect x="96" y="508" width="3" height="5" fill="#fff" />
<rect x="102" y="492" width="3" height="5" fill="#fff" />
<rect x="102" y="508" width="3" height="5" fill="#fff" />
<rect x="28" y="500" width="33" height="5" fill="#fff" />
<rect x="66" y="500" width="34" height="5" fill="#fff" />
<circle cx="108.3" cy="502.5" r="2.6" fill="#fff" shape-rendering="auto"/>
<rect x="113" y="412" width="84" height="25" fill="#000" />
<rect x="115" y="414" width="3" height="5" fill="#fff" />
<rect x="115" y="430" width="3" height="5" fill="#fff" />
<rect x="121" y="414" width="3" height="5" fill="#fff" />
<rect x="121" y="430" width="3" height="5" fill="#fff" />
<rect x="127" y="414" width="3" height="5" fill="#fff" />
<rect x="127" y="430" width="3" height="5" fill="#fff" />
<rect x="133" y="414" width="3" height="5" fill="#fff" />
<rect x="133" y="430" width="3" height="5" fill="#fff" />
<rect x="138" y="414" width="3" height="5" fill="#fff" />
<rect x="138" y="430" width="3" height="5" fill="#fff" />
<rect x="144" y="414" width="3" height="5" fill="#fff" />
<rect x="144" y="430" width="3" height="5" fill="#fff" />
<rect x="150" y="414" width="3" height="5" fill="#fff" />
<rect x="150" y="430" width="3" height="5" fill="#fff" />
<rect x="156" y="414" width="3" height="5" fill="#fff" />
<rect x="156" y="430" width="3" height="5" fill="#fff" />
<rect x="162" y="414" width="3" height="5" fill="#fff" />
<rect x="162" y="430" width="3" height="5" fill="#fff" />
<rect x="168" y="414" width="3" height="5" fill="#fff" />
<rect x="168" y="430" width="3" height="5" fill="#fff" />
<rect x="174" y="414" width="3" height="5" fill="#fff" />
<rect x="174" y="430" width="3" height="5" fill="#fff" />
<rect x="180" y="414" width="3" height="5" fill="#fff" />
<rect x="180" y="430" width="3" height="5" fill="#fff" />
<rect x="185" y="414" width="3" height="5" fill="#fff" />
<rect x="185" y="430" width="3" height="5" fill="#fff" />
<rect x="191" y="414" width="3" height="5" fill="#fff" />
<rect x="191" y="430" width="3" height="5" fill="#fff" />
<rect x="118" y="422" width="33" height="5" fill="#fff" />
<rect x="156" y="422" width="34" height="5" fill="#fff" />
<circle cx="197.3" cy="424.5" r="2.6" fill="#fff" shape-rendering="auto"/>
<rect x="113" y="438" width="84" height="25" fill="#000" />
<rect x="115" y="440" width="3" height="5" fill="#fff" />
<rect x="115" y="456" width="3" height="5" fill="#fff" />
<rect x="121" y="440" width="3" height="5" fill="#fff" />
<rect x="121" y="456" width="3" height="5" fill="#fff" />
<rect x="127" y="440" width="3" height="5" fill="#fff" />
<rect x="127" y="456" width="3" height="5" fill="#fff" />
<rect x="133" y="440" width="3" height="5" fill="#fff" />
<rect x="133" y="456" width="3" height="5" fill="#fff" />
<rect x="138" y="440" width="3" height="5" fill="#fff" />
<rect x="138" y="456" width="3" height="5" fill="#fff" />
<rect x="144" y="440" width="3" height="5" fill="#fff" />
<rect x="144" y="456" width="3" height="5" fill="#fff" />
<rect x="150" y="440" width="3" height="5" fill="#fff" />
<rect x="150" y="456" width="3" height="5" fill="#fff" />
<rect x="156" y="440" width="3" height="5" fill="#fff" />
<rect x="156" y="456" width="3" height="5" fill="#fff" />
<rect x="162" y="440" width="3" height="5" fill="#fff" />
<rect x="162" y="456" width="3" height="5" fill="#fff" />
<rect x="168" y="440" width="3" height="5" fill="#fff" />
<rect x="168" y="456" width="3" height="5" fill="#fff" />
<rect x="174" y="440" width="3" height="5" fill="#fff" />
<rect x="174" y="456" width="3" height="5" fill="#fff" />
<rect x="180" y="440" width="3" height="5" fill="#fff" />
<rect x="180" y="456" width="3" height="5" fill="#fff" />
<rect x="185" y="440" width="3" height="5" fill="#fff" />
<rect x="185" y="456" width="3" height="5" fill="#fff" />
<rect x="191" y="440" width="3" height="5" fill="#fff" />
<rect x="191" y="456" width="3" height="5" fill="#fff" />
<rect x="118" y="448" width="33" height="5" fill="#fff" />
<rect x="156" y="448" width="34" height="5" fill="#fff" />
<circle cx="197.3" cy="450.5" r="2.6" fill="#fff" shape-rendering="auto"/>
<rect x="113" y="464" width="84" height="25" fill="#000" />
<rect x="115" y="466" width="3" height="5" fill="#fff" />
<rect x="115" y="482" width="3" height="5" fill="#fff" />
<rect x="121" y="466" width="3" height="5" fill="#fff" />
<rect x="121" y="482" width="3" height="5" fill="#fff" />
<rect x="127" y="466" width="3" height="5" fill="#fff" />
<rect x="127" y="482" width="3" height="5" fill="#fff" />
<rect x="133" y="466" width="3" height="5" fill="#fff" />
<rect x="133" y="482" width="3" height="5" fill="#fff" />
<rect x="138" y="466" width="3" height="5" fill="#fff" />
<rect x="138" y="482" width="3" height="5" fill="#fff" />
<rect x="144" y="466" width="3" height="5" fill="#fff" />
<rect x="144" y="482" width="3" height="5" fill="#fff" />
<rect x="150" y="466" width="3" height="5" fill="#fff" />
<rect x="150" y="482" width="3" height="5" fill="#fff" />
<rect x="156" y="466" width="3" height="5" fill="#fff" />
<rect x="156" y="482" width="3" height="5" fill="#fff" />
<rect x="162" y="466" width="3" height="5" fill="#fff" />
<rect x="162" y="482" width="3" height="5" fill="#fff" />
<rect x="168" y="466" width="3" height="5" fill="#fff" />
<rect x="168" y="482" width="3" height="5" fill="#fff" />
<rect x="174" y="466" width="3" height="5" fill="#fff" />
<rect x="174" y="482" width="3" height="5" fill="#fff" />
<rect x="180" y="466" width="3" height="5" fill="#fff" />
<rect x="180" y="482" width="3" height="5" fill="#fff" />
<rect x="185" y="466" width="3" height="5" fill="#fff" />
<rect x="185" y="482" width="3" height="5" fill="#fff" />
<rect x="191" y="466" width="3" height="5" fill="#fff" />
<rect x="191" y="482" width="3" height="5" fill="#fff" />
<rect x="118" y="474" width="33" height="5" fill="#fff" />
<rect x="156" y="474" width="34" height="5" fill="#fff" />
<circle cx="197.3" cy="476.5" r="2.6" fill="#fff" shape-rendering="auto"/>
<rect x="113" y="490" width="84" height="25" fill="#000" />
<rect x="115" y="492" width="3" height="5" fill="#fff" />
<rect x="115" y="508" width="3" height="5" fill="#fff" />
<rect x="121" y="492" width="3" height="5" fill="#fff" />
<rect x="121" y="508" width="3" height="5" fill="#fff" />
<rect x="127" y="492" width="3" height="5" fill="#fff" />
<rect x="127" y="508" width="3" height="5" fill="#fff" />
<rect x="133" y="492" width="3" height="5" fill="#fff" />
<rect x="133" y="508" width="3" height="5" fill="#fff" />
<rect x="138" y="492" width="3" height="5" fill="#fff" />
<rect x="138" y="508" width="3" height="5" fill="#fff" />
<rect x="144" y="492" width="3" height="5" fill="#fff" />
<rect x="144" y="508" width="3" height="5" fill="#fff" />
<rect x="150" y="492" width="3" height="5" fill="#fff" />
<rect x="150" y="508" width="3" height="5" fill="#fff" />
<rect x="156" y="492" width="3" height="5" fill="#fff" />
<rect x="156" y="508" width="3" height="5" fill="#fff" />
<rect x="162" y="492" width="3" height="5" fill="#fff" />
<rect x="162" y="508" width="3" height="5" fill="#fff" />
<rect x="168" y="492" width="3" height="5" fill="#fff" />
<rect x="168" y="508" width="3" height="5" fill="#fff" />
<rect x="174" y="492" width="3" height="5" fill="#fff" />
<rect x="174" y="508" width="3" height="5" fill="#fff" />
<rect x="180" y="492" width="3" height="5" fill="#fff" />
<rect x="180" y="508" width="3" height="5" fill="#fff" />
<rect x="185" y="492" width="3" height="5" fill="#fff" />
<rect x="185" y="508" width="3" height="5" fill="#fff" />
<rect x="191" y="492" width="3" height="5" fill="#fff" />
<rect x="191" y="508" width="3" height="5" fill="#fff" />
<rect x="118" y="500" width="33" height="5" fill="#fff" />
<rect x="156" y="500" width="34" height="5" fill="#fff" />
<circle cx="197.3" cy="502.5" r="2.6" fill="#fff" shape-rendering="auto"/>
<rect x="81.8" y="425" width="49.8" height="19" rx="3" fill="#000" shape-rendering="auto"/>
<rect x="84" y="428" width="45.5" height="14.2" rx="1.8" fill="#fff" shape-rendering="auto"/>
<text transform="scale(0.8,1)" x="109.00 121.81 131.25 145.00 155.31" y="438.9" font-size="13" fill="#000" text-anchor="middle" stroke="#000" stroke-width="0.25">CACHE</text>
<rect x="35.8" y="457" width="57.4" height="18" rx="3" fill="#000" shape-rendering="auto"/>
<rect x="37.4" y="458.6" width="53.5" height="14.1" rx="1.5" fill="#fff" shape-rendering="auto"/>
<text transform="scale(0.8,1)" x="55.44 64.81 74.81 85.81 96.56 106.12" y="469.7" font-size="13" fill="#000" text-anchor="middle" stroke="#000" stroke-width="0.25">BANK 0</text>
<rect x="126.2" y="456" width="59.8" height="19" rx="3" fill="#000" shape-rendering="auto"/>
<rect x="128.1" y="457.9" width="55.1" height="14.3" rx="1.5" fill="#fff" shape-rendering="auto"/>
<text transform="scale(0.8,1)" x="169.06 178.75 188.87 200.62 211.69 219.94" y="469.2" font-size="13" fill="#000" text-anchor="middle" stroke="#000" stroke-width="0.25">BANK 1</text>
<rect x="118" y="382" width="62" height="1" fill="#fff" />
<rect x="245" y="431" width="77" height="39" fill="#000" />
<text transform="translate(275.1,457.3) rotate(180) scale(0.9,1)" font-size="11.2" font-weight="bold" letter-spacing="0.5" fill="#fff" stroke="#fff" stroke-width="0.6" text-anchor="middle">DALLAS</text>
<text transform="translate(279,445.6) rotate(180) scale(1.08,1)" font-size="9.8" font-weight="bold" letter-spacing="0.4" fill="#fff" stroke="#fff" stroke-width="0.4" text-anchor="middle">DS1387</text>
<text transform="translate(283.5,434.6) rotate(180) scale(1,1)" font-size="6.6" font-weight="bold" letter-spacing="0.2" fill="#fff" stroke="#fff" stroke-width="0.5" text-anchor="middle">REAL TIME RAMIFIED</text>
<g shape-rendering="auto">
<path d="M305.6,447 C303.2,449 302,452 302,455.3 C302,458.8 304.6,461.8 308.2,462.9 L312.8,462.9 C316.4,461.8 319,458.6 319,455 C319,451.6 317.4,448.6 315,446.6 C312,445.5 308.4,445.6 305.6,447 Z" fill="#fff"/>
<path d="M303.8,442.6 L306.2,448 M315.6,442.6 L314,448" stroke="#fff" stroke-width="1.9" fill="none"/>
<rect x="302" y="453.2" width="7.7" height="2.1" fill="#000"/>
<rect x="305.9" y="453.2" width="3.8" height="2.6" fill="#000"/>
<rect x="309.6" y="456.2" width="2.3" height="3.5" fill="#000"/>
<rect x="310.2" y="459.5" width="0.8" height="3.6" fill="#000"/>
<path d="M303.6,462.4 L302,464.8 L303,466.8 L306.6,466.8 L307.9,464.6 L305.4,463 Z" fill="#fff"/>
<path d="M317.2,462 L313,464 L315.4,466.8 L318,466.2 L318,463 Z" fill="#fff"/>
</g>
<rect x="246" y="476" width="88" height="41" fill="#000" />
<rect x="248" y="478" width="4" height="1" fill="#fff" />
<rect x="254" y="478" width="4" height="1" fill="#fff" />
<rect x="260" y="478" width="4" height="1" fill="#fff" />
<rect x="266" y="478" width="4" height="1" fill="#fff" />
<rect x="272" y="478" width="4" height="1" fill="#fff" />
<rect x="278" y="478" width="4" height="1" fill="#fff" />
<rect x="284" y="478" width="4" height="1" fill="#fff" />
<rect x="290" y="478" width="4" height="1" fill="#fff" />
<rect x="296" y="478" width="4" height="1" fill="#fff" />
<rect x="302" y="478" width="4" height="1" fill="#fff" />
<rect x="308" y="478" width="4" height="1" fill="#fff" />
<rect x="314" y="478" width="4" height="1" fill="#fff" />
<rect x="320" y="478" width="4" height="1" fill="#fff" />
<rect x="326" y="478" width="4" height="1" fill="#fff" />
<rect x="332" y="478" width="1" height="1" fill="#fff" />
<rect x="332" y="490" width="2" height="14" fill="#fff" />
<rect x="270" y="490" width="40" height="14" fill="#fff" />
<text transform="scale(0.8,1)" x="347.31 355.50 364.69 376.56" y="500.6" font-size="13" fill="#000" text-anchor="middle" stroke="#000" stroke-width="0.25">BIOS</text>
<text transform="scale(0.8,1)" x="327.56 338.88 348.75" y="317.6" font-size="13" fill="#000" text-anchor="middle" stroke="#000" stroke-width="0.25">JP6</text>
<rect x="416" y="15" width="337" height="24" fill="#000" />
<rect x="423" y="23" width="120" height="8" fill="#fff" />
<rect x="554" y="23" width="192" height="8" fill="#fff" />
<rect x="416" y="60" width="337" height="23" fill="#000" />
<rect x="423" y="68" width="120" height="7" fill="#fff" />
<rect x="554" y="68" width="192" height="7" fill="#fff" />
<rect x="416" y="103" width="337" height="23" fill="#000" />
<rect x="423" y="111" width="120" height="8" fill="#fff" />
<rect x="554" y="111" width="192" height="8" fill="#fff" />
<rect x="416" y="147" width="337" height="23" fill="#000" />
<rect x="423" y="155" width="120" height="7" fill="#fff" />
<rect x="554" y="155" width="192" height="7" fill="#fff" />
<rect x="416" y="191" width="337" height="23" fill="#000" />
<rect x="423" y="199" width="120" height="8" fill="#fff" />
<rect x="554" y="199" width="192" height="8" fill="#fff" />
<rect x="416" y="235" width="337" height="23" fill="#000" />
<rect x="423" y="243" width="120" height="7" fill="#fff" />
<rect x="554" y="243" width="192" height="7" fill="#fff" />
<rect x="416" y="278" width="337" height="23" fill="#000" />
<rect x="423" y="286" width="120" height="8" fill="#fff" />
<rect x="554" y="286" width="192" height="8" fill="#fff" />
<rect x="416" y="323" width="337" height="23" fill="#000" />
<rect x="423" y="331" width="120" height="7" fill="#fff" />
<rect x="554" y="331" width="192" height="7" fill="#fff" />
<text transform="scale(0.8,1)" x="733.62 745.88 754.62 763.44 771.69 779.00" y="50.9" font-size="11.5" fill="#000" text-anchor="middle" stroke="#000" stroke-width="0.25">MH1401</text>
<rect x="709" y="259" width="36.4" height="19" rx="3" fill="#000" shape-rendering="auto"/>
<rect x="711" y="261" width="32.1" height="14.7" rx="1.5" fill="#fff" shape-rendering="auto"/>
<polygon points="744,264.8 751,268.3 744,271.6" fill="#fff" shape-rendering="auto"/>
<polyline points="744,264.8 751,268.3 744,271.6" fill="none" stroke="#000" stroke-width="2.1" stroke-linejoin="miter" shape-rendering="auto"/>
<line x1="751" y1="268.3" x2="760" y2="268.3" stroke="#000" stroke-width="4" shape-rendering="auto"/>
<text transform="scale(0.8,1)" x="896.13 907.19 916.75" y="271.6" font-size="13" fill="#000" text-anchor="middle" stroke="#000" stroke-width="0.25">JP2</text>
<rect x="760" y="265" width="19" height="7" fill="#000" />
<rect x="766" y="266" width="1" height="5" fill="#fff" />
<rect x="772" y="266" width="1" height="5" fill="#fff" />
<rect x="775" y="266" width="3" height="5" fill="#fff" />
<rect x="776" y="267" width="1" height="3" fill="#000" />
<rect x="706" y="356" width="7" height="14" fill="#000" />
<rect x="707" y="357" width="5" height="12" fill="#fff" />
<rect x="707" y="358" width="4" height="4" fill="#000" />
<rect x="707" y="364" width="4" height="4" fill="#000" />
<rect x="728" y="354" width="35.6" height="18" rx="3" fill="#000" shape-rendering="auto"/>
<rect x="730" y="356" width="31.3" height="13.7" rx="1.5" fill="#fff" shape-rendering="auto"/>
<polygon points="729.8,358.8 716.5,362.5 729.8,366.2" fill="#fff" shape-rendering="auto"/>
<polyline points="729.8,358.8 716.5,362.5 729.8,366.2" fill="none" stroke="#000" stroke-width="2.3" stroke-linejoin="miter" shape-rendering="auto"/>
<line x1="716.5" y1="362.5" x2="713" y2="362.5" stroke="#000" stroke-width="2" shape-rendering="auto"/>
<text transform="scale(0.8,1)" x="920.37 931.19 940.25" y="367.7" font-size="13" fill="#000" text-anchor="middle" stroke="#000" stroke-width="0.25">JP3</text>
<rect x="440" y="357" width="227" height="155" fill="#000" />
<rect x="441" y="358" width="225" height="153" fill="#fff" />
<rect x="441" y="376" width="225" height="2" fill="#000" />
<rect x="441" y="361" width="9" height="1" fill="#000" />
<rect x="441" y="368" width="9" height="1" fill="#000" />
<rect x="449" y="359" width="4" height="17" fill="#000" />
<rect x="453" y="361" width="9" height="1" fill="#000" />
<rect x="461" y="361" width="1" height="12" fill="#000" />
<rect x="459" y="372" width="3" height="1" fill="#000" />
<rect x="459" y="369" width="1" height="7" fill="#000" />
<rect x="455" y="369" width="5" height="1" fill="#000" />
<rect x="455" y="369" width="1" height="3" fill="#000" />
<rect x="453" y="371" width="3" height="1" fill="#000" />
<rect x="468" y="360" width="173" height="14" fill="#000" />
<rect x="466" y="361" width="3" height="7" fill="#000" />
<rect x="467" y="362" width="1" height="5" fill="#fff" />
<rect x="640" y="361" width="3" height="7" fill="#000" />
<rect x="641" y="362" width="1" height="5" fill="#fff" />
<rect x="470" y="362" width="4" height="5" fill="#fff" />
<rect x="471" y="369" width="1" height="4" fill="#fff" />
<rect x="471" y="359" width="2" height="1" fill="#000" />
<rect x="476" y="362" width="4" height="5" fill="#fff" />
<rect x="477" y="369" width="1" height="4" fill="#fff" />
<rect x="477" y="359" width="2" height="1" fill="#000" />
<rect x="482" y="362" width="4" height="5" fill="#fff" />
<rect x="483" y="369" width="1" height="4" fill="#fff" />
<rect x="483" y="359" width="2" height="1" fill="#000" />
<rect x="488" y="362" width="4" height="5" fill="#fff" />
<rect x="489" y="369" width="1" height="4" fill="#fff" />
<rect x="489" y="359" width="2" height="1" fill="#000" />
<rect x="494" y="362" width="4" height="5" fill="#fff" />
<rect x="495" y="369" width="2" height="4" fill="#fff" />
<rect x="495" y="359" width="2" height="1" fill="#000" />
<rect x="500" y="362" width="4" height="5" fill="#fff" />
<rect x="501" y="369" width="1" height="4" fill="#fff" />
<rect x="501" y="359" width="2" height="1" fill="#000" />
<rect x="505" y="362" width="4" height="5" fill="#fff" />
<rect x="506" y="369" width="1" height="4" fill="#fff" />
<rect x="506" y="359" width="2" height="1" fill="#000" />
<rect x="511" y="362" width="4" height="5" fill="#fff" />
<rect x="512" y="369" width="1" height="4" fill="#fff" />
<rect x="512" y="367" width="1" height="3" fill="#fff" />
<rect x="512" y="359" width="2" height="1" fill="#000" />
<rect x="517" y="362" width="4" height="5" fill="#fff" />
<rect x="518" y="369" width="1" height="4" fill="#fff" />
<rect x="518" y="367" width="1" height="3" fill="#fff" />
<rect x="518" y="359" width="2" height="1" fill="#000" />
<rect x="523" y="362" width="4" height="5" fill="#fff" />
<rect x="524" y="369" width="2" height="4" fill="#fff" />
<rect x="524" y="367" width="1" height="3" fill="#fff" />
<rect x="524" y="359" width="2" height="1" fill="#000" />
<rect x="529" y="362" width="4" height="5" fill="#fff" />
<rect x="530" y="369" width="1" height="4" fill="#fff" />
<rect x="530" y="359" width="2" height="1" fill="#000" />
<rect x="535" y="362" width="4" height="5" fill="#fff" />
<rect x="536" y="369" width="1" height="4" fill="#fff" />
<rect x="536" y="359" width="2" height="1" fill="#000" />
<rect x="541" y="362" width="4" height="5" fill="#fff" />
<rect x="542" y="369" width="1" height="4" fill="#fff" />
<rect x="542" y="359" width="2" height="1" fill="#000" />
<rect x="547" y="362" width="4" height="5" fill="#fff" />
<rect x="548" y="369" width="1" height="4" fill="#fff" />
<rect x="548" y="359" width="2" height="1" fill="#000" />
<rect x="553" y="362" width="4" height="5" fill="#fff" />
<rect x="554" y="369" width="2" height="4" fill="#fff" />
<rect x="554" y="359" width="2" height="1" fill="#000" />
<rect x="558" y="362" width="4" height="5" fill="#fff" />
<rect x="559" y="369" width="1" height="4" fill="#fff" />
<rect x="559" y="359" width="2" height="1" fill="#000" />
<rect x="564" y="362" width="4" height="5" fill="#fff" />
<rect x="565" y="369" width="1" height="4" fill="#fff" />
<rect x="565" y="359" width="2" height="1" fill="#000" />
<rect x="570" y="362" width="4" height="5" fill="#fff" />
<rect x="571" y="369" width="1" height="4" fill="#fff" />
<rect x="571" y="359" width="2" height="1" fill="#000" />
<rect x="576" y="362" width="4" height="5" fill="#fff" />
<rect x="577" y="369" width="1" height="4" fill="#fff" />
<rect x="577" y="359" width="2" height="1" fill="#000" />
<rect x="582" y="362" width="4" height="5" fill="#fff" />
<rect x="583" y="369" width="2" height="4" fill="#fff" />
<rect x="583" y="359" width="2" height="1" fill="#000" />
<rect x="588" y="362" width="4" height="5" fill="#fff" />
<rect x="589" y="369" width="1" height="4" fill="#fff" />
<rect x="589" y="367" width="1" height="3" fill="#fff" />
<rect x="589" y="359" width="2" height="1" fill="#000" />
<rect x="594" y="362" width="4" height="5" fill="#fff" />
<rect x="595" y="369" width="1" height="4" fill="#fff" />
<rect x="595" y="367" width="1" height="3" fill="#fff" />
<rect x="595" y="359" width="2" height="1" fill="#000" />
<rect x="600" y="362" width="4" height="5" fill="#fff" />
<rect x="601" y="369" width="1" height="4" fill="#fff" />
<rect x="601" y="359" width="2" height="1" fill="#000" />
<rect x="606" y="362" width="4" height="5" fill="#fff" />
<rect x="607" y="369" width="1" height="4" fill="#fff" />
<rect x="607" y="359" width="2" height="1" fill="#000" />
<rect x="612" y="362" width="4" height="5" fill="#fff" />
<rect x="613" y="369" width="2" height="4" fill="#fff" />
<rect x="613" y="359" width="2" height="1" fill="#000" />
<rect x="618" y="362" width="4" height="5" fill="#fff" />
<rect x="619" y="369" width="1" height="4" fill="#fff" />
<rect x="619" y="359" width="2" height="1" fill="#000" />
<rect x="623" y="362" width="4" height="5" fill="#fff" />
<rect x="624" y="369" width="1" height="4" fill="#fff" />
<rect x="624" y="359" width="2" height="1" fill="#000" />
<rect x="629" y="362" width="4" height="5" fill="#fff" />
<rect x="630" y="369" width="1" height="4" fill="#fff" />
<rect x="630" y="359" width="2" height="1" fill="#000" />
<rect x="635" y="362" width="4" height="5" fill="#fff" />
<rect x="636" y="369" width="1" height="4" fill="#fff" />
<rect x="636" y="359" width="2" height="1" fill="#000" />
<rect x="646" y="361" width="10" height="1" fill="#000" />
<rect x="646" y="361" width="1" height="12" fill="#000" />
<rect x="646" y="372" width="3" height="1" fill="#000" />
<rect x="648" y="369" width="1" height="7" fill="#000" />
<rect x="648" y="369" width="7" height="1" fill="#000" />
<rect x="654" y="369" width="1" height="3" fill="#000" />
<rect x="654" y="371" width="3" height="1" fill="#000" />
<rect x="656" y="359" width="4" height="17" fill="#000" />
<rect x="659" y="362" width="8" height="1" fill="#000" />
<rect x="659" y="368" width="8" height="1" fill="#000" />
<rect x="441" y="395" width="225" height="2" fill="#000" />
<rect x="441" y="380" width="9" height="1" fill="#000" />
<rect x="441" y="387" width="9" height="1" fill="#000" />
<rect x="449" y="379" width="4" height="16" fill="#000" />
<rect x="453" y="380" width="9" height="1" fill="#000" />
<rect x="461" y="380" width="1" height="12" fill="#000" />
<rect x="459" y="391" width="3" height="1" fill="#000" />
<rect x="459" y="388" width="1" height="7" fill="#000" />
<rect x="455" y="388" width="5" height="1" fill="#000" />
<rect x="455" y="388" width="1" height="3" fill="#000" />
<rect x="453" y="390" width="3" height="1" fill="#000" />
<rect x="468" y="379" width="173" height="14" fill="#000" />
<rect x="466" y="380" width="3" height="7" fill="#000" />
<rect x="467" y="381" width="1" height="5" fill="#fff" />
<rect x="640" y="380" width="3" height="7" fill="#000" />
<rect x="641" y="381" width="1" height="5" fill="#fff" />
<rect x="470" y="381" width="4" height="5" fill="#fff" />
<rect x="471" y="388" width="1" height="4" fill="#fff" />
<rect x="476" y="381" width="4" height="5" fill="#fff" />
<rect x="477" y="388" width="1" height="4" fill="#fff" />
<rect x="482" y="381" width="4" height="5" fill="#fff" />
<rect x="483" y="388" width="1" height="4" fill="#fff" />
<rect x="488" y="381" width="4" height="5" fill="#fff" />
<rect x="489" y="388" width="1" height="4" fill="#fff" />
<rect x="494" y="381" width="4" height="5" fill="#fff" />
<rect x="495" y="388" width="2" height="4" fill="#fff" />
<rect x="500" y="381" width="4" height="5" fill="#fff" />
<rect x="501" y="388" width="1" height="4" fill="#fff" />
<rect x="505" y="381" width="4" height="5" fill="#fff" />
<rect x="506" y="388" width="1" height="4" fill="#fff" />
<rect x="511" y="381" width="4" height="5" fill="#fff" />
<rect x="512" y="388" width="1" height="4" fill="#fff" />
<rect x="512" y="386" width="1" height="3" fill="#fff" />
<rect x="517" y="381" width="4" height="5" fill="#fff" />
<rect x="518" y="388" width="1" height="4" fill="#fff" />
<rect x="518" y="386" width="1" height="3" fill="#fff" />
<rect x="523" y="381" width="4" height="5" fill="#fff" />
<rect x="524" y="388" width="2" height="4" fill="#fff" />
<rect x="524" y="386" width="1" height="3" fill="#fff" />
<rect x="529" y="381" width="4" height="5" fill="#fff" />
<rect x="530" y="388" width="1" height="4" fill="#fff" />
<rect x="535" y="381" width="4" height="5" fill="#fff" />
<rect x="536" y="388" width="1" height="4" fill="#fff" />
<rect x="541" y="381" width="4" height="5" fill="#fff" />
<rect x="542" y="388" width="1" height="4" fill="#fff" />
<rect x="547" y="381" width="4" height="5" fill="#fff" />
<rect x="548" y="388" width="1" height="4" fill="#fff" />
<rect x="553" y="381" width="4" height="5" fill="#fff" />
<rect x="554" y="388" width="2" height="4" fill="#fff" />
<rect x="558" y="381" width="4" height="5" fill="#fff" />
<rect x="559" y="388" width="1" height="4" fill="#fff" />
<rect x="564" y="381" width="4" height="5" fill="#fff" />
<rect x="565" y="388" width="1" height="4" fill="#fff" />
<rect x="570" y="381" width="4" height="5" fill="#fff" />
<rect x="571" y="388" width="1" height="4" fill="#fff" />
<rect x="576" y="381" width="4" height="5" fill="#fff" />
<rect x="577" y="388" width="1" height="4" fill="#fff" />
<rect x="582" y="381" width="4" height="5" fill="#fff" />
<rect x="583" y="388" width="2" height="4" fill="#fff" />
<rect x="588" y="381" width="4" height="5" fill="#fff" />
<rect x="589" y="388" width="1" height="4" fill="#fff" />
<rect x="589" y="386" width="1" height="3" fill="#fff" />
<rect x="594" y="381" width="4" height="5" fill="#fff" />
<rect x="595" y="388" width="1" height="4" fill="#fff" />
<rect x="595" y="386" width="1" height="3" fill="#fff" />
<rect x="600" y="381" width="4" height="5" fill="#fff" />
<rect x="601" y="388" width="1" height="4" fill="#fff" />
<rect x="606" y="381" width="4" height="5" fill="#fff" />
<rect x="607" y="388" width="1" height="4" fill="#fff" />
<rect x="612" y="381" width="4" height="5" fill="#fff" />
<rect x="613" y="388" width="2" height="4" fill="#fff" />
<rect x="618" y="381" width="4" height="5" fill="#fff" />
<rect x="619" y="388" width="1" height="4" fill="#fff" />
<rect x="623" y="381" width="4" height="5" fill="#fff" />
<rect x="624" y="388" width="1" height="4" fill="#fff" />
<rect x="629" y="381" width="4" height="5" fill="#fff" />
<rect x="630" y="388" width="1" height="4" fill="#fff" />
<rect x="635" y="381" width="4" height="5" fill="#fff" />
<rect x="636" y="388" width="1" height="4" fill="#fff" />
<rect x="646" y="380" width="10" height="1" fill="#000" />
<rect x="646" y="380" width="1" height="12" fill="#000" />
<rect x="646" y="391" width="3" height="1" fill="#000" />
<rect x="648" y="388" width="1" height="7" fill="#000" />
<rect x="648" y="388" width="7" height="1" fill="#000" />
<rect x="654" y="388" width="1" height="3" fill="#000" />
<rect x="654" y="390" width="3" height="1" fill="#000" />
<rect x="656" y="379" width="4" height="16" fill="#000" />
<rect x="659" y="381" width="8" height="1" fill="#000" />
<rect x="659" y="387" width="8" height="1" fill="#000" />
<rect x="441" y="414" width="225" height="2" fill="#000" />
<rect x="441" y="399" width="9" height="1" fill="#000" />
<rect x="441" y="406" width="9" height="1" fill="#000" />
<rect x="449" y="398" width="4" height="16" fill="#000" />
<rect x="453" y="399" width="9" height="1" fill="#000" />
<rect x="461" y="399" width="1" height="12" fill="#000" />
<rect x="459" y="410" width="3" height="1" fill="#000" />
<rect x="459" y="407" width="1" height="7" fill="#000" />
<rect x="455" y="407" width="5" height="1" fill="#000" />
<rect x="455" y="407" width="1" height="3" fill="#000" />
<rect x="453" y="409" width="3" height="1" fill="#000" />
<rect x="468" y="398" width="173" height="14" fill="#000" />
<rect x="466" y="399" width="3" height="7" fill="#000" />
<rect x="467" y="400" width="1" height="5" fill="#fff" />
<rect x="640" y="399" width="3" height="7" fill="#000" />
<rect x="641" y="400" width="1" height="5" fill="#fff" />
<rect x="470" y="399" width="4" height="6" fill="#fff" />
<rect x="471" y="407" width="1" height="4" fill="#fff" />
<rect x="476" y="399" width="4" height="6" fill="#fff" />
<rect x="477" y="407" width="1" height="4" fill="#fff" />
<rect x="482" y="399" width="4" height="6" fill="#fff" />
<rect x="483" y="407" width="1" height="4" fill="#fff" />
<rect x="488" y="399" width="4" height="6" fill="#fff" />
<rect x="489" y="407" width="1" height="4" fill="#fff" />
<rect x="494" y="399" width="4" height="6" fill="#fff" />
<rect x="495" y="407" width="2" height="4" fill="#fff" />
<rect x="500" y="399" width="4" height="6" fill="#fff" />
<rect x="501" y="407" width="1" height="4" fill="#fff" />
<rect x="505" y="399" width="4" height="6" fill="#fff" />
<rect x="506" y="407" width="1" height="4" fill="#fff" />
<rect x="511" y="399" width="4" height="6" fill="#fff" />
<rect x="512" y="407" width="1" height="4" fill="#fff" />
<rect x="512" y="405" width="1" height="3" fill="#fff" />
<rect x="517" y="399" width="4" height="6" fill="#fff" />
<rect x="518" y="407" width="1" height="4" fill="#fff" />
<rect x="518" y="405" width="1" height="3" fill="#fff" />
<rect x="523" y="399" width="4" height="6" fill="#fff" />
<rect x="524" y="407" width="2" height="4" fill="#fff" />
<rect x="524" y="405" width="1" height="3" fill="#fff" />
<rect x="529" y="399" width="4" height="6" fill="#fff" />
<rect x="530" y="407" width="1" height="4" fill="#fff" />
<rect x="535" y="399" width="4" height="6" fill="#fff" />
<rect x="536" y="407" width="1" height="4" fill="#fff" />
<rect x="541" y="399" width="4" height="6" fill="#fff" />
<rect x="542" y="407" width="1" height="4" fill="#fff" />
<rect x="547" y="399" width="4" height="6" fill="#fff" />
<rect x="548" y="407" width="1" height="4" fill="#fff" />
<rect x="553" y="399" width="4" height="6" fill="#fff" />
<rect x="554" y="407" width="2" height="4" fill="#fff" />
<rect x="558" y="399" width="4" height="6" fill="#fff" />
<rect x="559" y="407" width="1" height="4" fill="#fff" />
<rect x="564" y="399" width="4" height="6" fill="#fff" />
<rect x="565" y="407" width="1" height="4" fill="#fff" />
<rect x="570" y="399" width="4" height="6" fill="#fff" />
<rect x="571" y="407" width="1" height="4" fill="#fff" />
<rect x="576" y="399" width="4" height="6" fill="#fff" />
<rect x="577" y="407" width="1" height="4" fill="#fff" />
<rect x="582" y="399" width="4" height="6" fill="#fff" />
<rect x="583" y="407" width="2" height="4" fill="#fff" />
<rect x="588" y="399" width="4" height="6" fill="#fff" />
<rect x="589" y="407" width="1" height="4" fill="#fff" />
<rect x="589" y="405" width="1" height="3" fill="#fff" />
<rect x="594" y="399" width="4" height="6" fill="#fff" />
<rect x="595" y="407" width="1" height="4" fill="#fff" />
<rect x="595" y="405" width="1" height="3" fill="#fff" />
<rect x="600" y="399" width="4" height="6" fill="#fff" />
<rect x="601" y="407" width="1" height="4" fill="#fff" />
<rect x="606" y="399" width="4" height="6" fill="#fff" />
<rect x="607" y="407" width="1" height="4" fill="#fff" />
<rect x="612" y="399" width="4" height="6" fill="#fff" />
<rect x="613" y="407" width="2" height="4" fill="#fff" />
<rect x="618" y="399" width="4" height="6" fill="#fff" />
<rect x="619" y="407" width="1" height="4" fill="#fff" />
<rect x="623" y="399" width="4" height="6" fill="#fff" />
<rect x="624" y="407" width="1" height="4" fill="#fff" />
<rect x="629" y="399" width="4" height="6" fill="#fff" />
<rect x="630" y="407" width="1" height="4" fill="#fff" />
<rect x="635" y="399" width="4" height="6" fill="#fff" />
<rect x="636" y="407" width="1" height="4" fill="#fff" />
<rect x="646" y="399" width="10" height="1" fill="#000" />
<rect x="646" y="399" width="1" height="12" fill="#000" />
<rect x="646" y="410" width="3" height="1" fill="#000" />
<rect x="648" y="407" width="1" height="7" fill="#000" />
<rect x="648" y="407" width="7" height="1" fill="#000" />
<rect x="654" y="407" width="1" height="3" fill="#000" />
<rect x="654" y="409" width="3" height="1" fill="#000" />
<rect x="656" y="398" width="4" height="16" fill="#000" />
<rect x="659" y="400" width="8" height="1" fill="#000" />
<rect x="659" y="406" width="8" height="1" fill="#000" />
<rect x="441" y="433" width="225" height="1" fill="#000" />
<rect x="441" y="435" width="225" height="1" fill="#000" />
<rect x="441" y="418" width="9" height="1" fill="#000" />
<rect x="441" y="425" width="9" height="1" fill="#000" />
<rect x="449" y="417" width="4" height="17" fill="#000" />
<rect x="453" y="418" width="9" height="1" fill="#000" />
<rect x="461" y="418" width="1" height="12" fill="#000" />
<rect x="459" y="429" width="3" height="1" fill="#000" />
<rect x="459" y="426" width="1" height="8" fill="#000" />
<rect x="455" y="426" width="5" height="1" fill="#000" />
<rect x="455" y="426" width="1" height="3" fill="#000" />
<rect x="453" y="428" width="3" height="1" fill="#000" />
<rect x="468" y="417" width="173" height="14" fill="#000" />
<rect x="466" y="418" width="3" height="7" fill="#000" />
<rect x="467" y="419" width="1" height="5" fill="#fff" />
<rect x="640" y="418" width="3" height="7" fill="#000" />
<rect x="641" y="419" width="1" height="5" fill="#fff" />
<rect x="470" y="418" width="4" height="6" fill="#fff" />
<rect x="471" y="426" width="1" height="4" fill="#fff" />
<rect x="476" y="418" width="4" height="6" fill="#fff" />
<rect x="477" y="426" width="1" height="4" fill="#fff" />
<rect x="482" y="418" width="4" height="6" fill="#fff" />
<rect x="483" y="426" width="1" height="4" fill="#fff" />
<rect x="488" y="418" width="4" height="6" fill="#fff" />
<rect x="489" y="426" width="1" height="4" fill="#fff" />
<rect x="494" y="418" width="4" height="6" fill="#fff" />
<rect x="495" y="426" width="2" height="4" fill="#fff" />
<rect x="500" y="418" width="4" height="6" fill="#fff" />
<rect x="501" y="426" width="1" height="4" fill="#fff" />
<rect x="505" y="418" width="4" height="6" fill="#fff" />
<rect x="506" y="426" width="1" height="4" fill="#fff" />
<rect x="511" y="418" width="4" height="6" fill="#fff" />
<rect x="512" y="426" width="1" height="4" fill="#fff" />
<rect x="512" y="424" width="1" height="3" fill="#fff" />
<rect x="517" y="418" width="4" height="6" fill="#fff" />
<rect x="518" y="426" width="1" height="4" fill="#fff" />
<rect x="518" y="424" width="1" height="3" fill="#fff" />
<rect x="523" y="418" width="4" height="6" fill="#fff" />
<rect x="524" y="426" width="2" height="4" fill="#fff" />
<rect x="524" y="424" width="1" height="3" fill="#fff" />
<rect x="529" y="418" width="4" height="6" fill="#fff" />
<rect x="530" y="426" width="1" height="4" fill="#fff" />
<rect x="535" y="418" width="4" height="6" fill="#fff" />
<rect x="536" y="426" width="1" height="4" fill="#fff" />
<rect x="541" y="418" width="4" height="6" fill="#fff" />
<rect x="542" y="426" width="1" height="4" fill="#fff" />
<rect x="547" y="418" width="4" height="6" fill="#fff" />
<rect x="548" y="426" width="1" height="4" fill="#fff" />
<rect x="553" y="418" width="4" height="6" fill="#fff" />
<rect x="554" y="426" width="2" height="4" fill="#fff" />
<rect x="558" y="418" width="4" height="6" fill="#fff" />
<rect x="559" y="426" width="1" height="4" fill="#fff" />
<rect x="564" y="418" width="4" height="6" fill="#fff" />
<rect x="565" y="426" width="1" height="4" fill="#fff" />
<rect x="570" y="418" width="4" height="6" fill="#fff" />
<rect x="571" y="426" width="1" height="4" fill="#fff" />
<rect x="576" y="418" width="4" height="6" fill="#fff" />
<rect x="577" y="426" width="1" height="4" fill="#fff" />
<rect x="582" y="418" width="4" height="6" fill="#fff" />
<rect x="583" y="426" width="2" height="4" fill="#fff" />
<rect x="588" y="418" width="4" height="6" fill="#fff" />
<rect x="589" y="426" width="1" height="4" fill="#fff" />
<rect x="589" y="424" width="1" height="3" fill="#fff" />
<rect x="594" y="418" width="4" height="6" fill="#fff" />
<rect x="595" y="426" width="1" height="4" fill="#fff" />
<rect x="595" y="424" width="1" height="3" fill="#fff" />
<rect x="600" y="418" width="4" height="6" fill="#fff" />
<rect x="601" y="426" width="1" height="4" fill="#fff" />
<rect x="606" y="418" width="4" height="6" fill="#fff" />
<rect x="607" y="426" width="1" height="4" fill="#fff" />
<rect x="612" y="418" width="4" height="6" fill="#fff" />
<rect x="613" y="426" width="2" height="4" fill="#fff" />
<rect x="618" y="418" width="4" height="6" fill="#fff" />
<rect x="619" y="426" width="1" height="4" fill="#fff" />
<rect x="623" y="418" width="4" height="6" fill="#fff" />
<rect x="624" y="426" width="1" height="4" fill="#fff" />
<rect x="629" y="418" width="4" height="6" fill="#fff" />
<rect x="630" y="426" width="1" height="4" fill="#fff" />
<rect x="635" y="418" width="4" height="6" fill="#fff" />
<rect x="636" y="426" width="1" height="4" fill="#fff" />
<rect x="646" y="418" width="10" height="1" fill="#000" />
<rect x="646" y="418" width="1" height="12" fill="#000" />
<rect x="646" y="429" width="3" height="1" fill="#000" />
<rect x="648" y="426" width="1" height="8" fill="#000" />
<rect x="648" y="426" width="7" height="1" fill="#000" />
<rect x="654" y="426" width="1" height="3" fill="#000" />
<rect x="654" y="428" width="3" height="1" fill="#000" />
<rect x="656" y="417" width="4" height="17" fill="#000" />
<rect x="659" y="419" width="8" height="1" fill="#000" />
<rect x="659" y="425" width="8" height="1" fill="#000" />
<rect x="441" y="453" width="225" height="2" fill="#000" />
<rect x="441" y="438" width="9" height="1" fill="#000" />
<rect x="441" y="445" width="9" height="1" fill="#000" />
<rect x="449" y="437" width="4" height="16" fill="#000" />
<rect x="453" y="438" width="9" height="1" fill="#000" />
<rect x="461" y="438" width="1" height="12" fill="#000" />
<rect x="459" y="449" width="3" height="1" fill="#000" />
<rect x="459" y="446" width="1" height="7" fill="#000" />
<rect x="455" y="446" width="5" height="1" fill="#000" />
<rect x="455" y="446" width="1" height="3" fill="#000" />
<rect x="453" y="448" width="3" height="1" fill="#000" />
<rect x="468" y="437" width="173" height="14" fill="#000" />
<rect x="466" y="438" width="3" height="7" fill="#000" />
<rect x="467" y="439" width="1" height="5" fill="#fff" />
<rect x="640" y="438" width="3" height="7" fill="#000" />
<rect x="641" y="439" width="1" height="5" fill="#fff" />
<rect x="470" y="438" width="4" height="6" fill="#fff" />
<rect x="471" y="446" width="1" height="4" fill="#fff" />
<rect x="476" y="438" width="4" height="6" fill="#fff" />
<rect x="477" y="446" width="1" height="4" fill="#fff" />
<rect x="482" y="438" width="4" height="6" fill="#fff" />
<rect x="483" y="446" width="1" height="4" fill="#fff" />
<rect x="488" y="438" width="4" height="6" fill="#fff" />
<rect x="489" y="446" width="1" height="4" fill="#fff" />
<rect x="494" y="438" width="4" height="6" fill="#fff" />
<rect x="495" y="446" width="2" height="4" fill="#fff" />
<rect x="500" y="438" width="4" height="6" fill="#fff" />
<rect x="501" y="446" width="1" height="4" fill="#fff" />
<rect x="505" y="438" width="4" height="6" fill="#fff" />
<rect x="506" y="446" width="1" height="4" fill="#fff" />
<rect x="511" y="438" width="4" height="6" fill="#fff" />
<rect x="512" y="446" width="1" height="4" fill="#fff" />
<rect x="512" y="444" width="1" height="3" fill="#fff" />
<rect x="517" y="438" width="4" height="6" fill="#fff" />
<rect x="518" y="446" width="1" height="4" fill="#fff" />
<rect x="518" y="444" width="1" height="3" fill="#fff" />
<rect x="523" y="438" width="4" height="6" fill="#fff" />
<rect x="524" y="446" width="2" height="4" fill="#fff" />
<rect x="524" y="444" width="1" height="3" fill="#fff" />
<rect x="529" y="438" width="4" height="6" fill="#fff" />
<rect x="530" y="446" width="1" height="4" fill="#fff" />
<rect x="535" y="438" width="4" height="6" fill="#fff" />
<rect x="536" y="446" width="1" height="4" fill="#fff" />
<rect x="541" y="438" width="4" height="6" fill="#fff" />
<rect x="542" y="446" width="1" height="4" fill="#fff" />
<rect x="547" y="438" width="4" height="6" fill="#fff" />
<rect x="548" y="446" width="1" height="4" fill="#fff" />
<rect x="553" y="438" width="4" height="6" fill="#fff" />
<rect x="554" y="446" width="2" height="4" fill="#fff" />
<rect x="558" y="438" width="4" height="6" fill="#fff" />
<rect x="559" y="446" width="1" height="4" fill="#fff" />
<rect x="564" y="438" width="4" height="6" fill="#fff" />
<rect x="565" y="446" width="1" height="4" fill="#fff" />
<rect x="570" y="438" width="4" height="6" fill="#fff" />
<rect x="571" y="446" width="1" height="4" fill="#fff" />
<rect x="576" y="438" width="4" height="6" fill="#fff" />
<rect x="577" y="446" width="1" height="4" fill="#fff" />
<rect x="582" y="438" width="4" height="6" fill="#fff" />
<rect x="583" y="446" width="2" height="4" fill="#fff" />
<rect x="588" y="438" width="4" height="6" fill="#fff" />
<rect x="589" y="446" width="1" height="4" fill="#fff" />
<rect x="589" y="444" width="1" height="3" fill="#fff" />
<rect x="594" y="438" width="4" height="6" fill="#fff" />
<rect x="595" y="446" width="1" height="4" fill="#fff" />
<rect x="595" y="444" width="1" height="3" fill="#fff" />
<rect x="600" y="438" width="4" height="6" fill="#fff" />
<rect x="601" y="446" width="1" height="4" fill="#fff" />
<rect x="606" y="438" width="4" height="6" fill="#fff" />
<rect x="607" y="446" width="1" height="4" fill="#fff" />
<rect x="612" y="438" width="4" height="6" fill="#fff" />
<rect x="613" y="446" width="2" height="4" fill="#fff" />
<rect x="618" y="438" width="4" height="6" fill="#fff" />
<rect x="619" y="446" width="1" height="4" fill="#fff" />
<rect x="623" y="438" width="4" height="6" fill="#fff" />
<rect x="624" y="446" width="1" height="4" fill="#fff" />
<rect x="629" y="438" width="4" height="6" fill="#fff" />
<rect x="630" y="446" width="1" height="4" fill="#fff" />
<rect x="635" y="438" width="4" height="6" fill="#fff" />
<rect x="636" y="446" width="1" height="4" fill="#fff" />
<rect x="646" y="438" width="10" height="1" fill="#000" />
<rect x="646" y="438" width="1" height="12" fill="#000" />
<rect x="646" y="449" width="3" height="1" fill="#000" />
<rect x="648" y="446" width="1" height="7" fill="#000" />
<rect x="648" y="446" width="7" height="1" fill="#000" />
<rect x="654" y="446" width="1" height="3" fill="#000" />
<rect x="654" y="448" width="3" height="1" fill="#000" />
<rect x="656" y="437" width="4" height="16" fill="#000" />
<rect x="659" y="439" width="8" height="1" fill="#000" />
<rect x="659" y="445" width="8" height="1" fill="#000" />
<rect x="441" y="472" width="225" height="2" fill="#000" />
<rect x="441" y="457" width="9" height="1" fill="#000" />
<rect x="441" y="464" width="9" height="1" fill="#000" />
<rect x="449" y="456" width="4" height="16" fill="#000" />
<rect x="453" y="457" width="9" height="1" fill="#000" />
<rect x="461" y="457" width="1" height="12" fill="#000" />
<rect x="459" y="468" width="3" height="1" fill="#000" />
<rect x="459" y="465" width="1" height="7" fill="#000" />
<rect x="455" y="465" width="5" height="1" fill="#000" />
<rect x="455" y="465" width="1" height="3" fill="#000" />
<rect x="453" y="467" width="3" height="1" fill="#000" />
<rect x="468" y="456" width="173" height="14" fill="#000" />
<rect x="466" y="457" width="3" height="7" fill="#000" />
<rect x="467" y="458" width="1" height="5" fill="#fff" />
<rect x="640" y="457" width="3" height="7" fill="#000" />
<rect x="641" y="458" width="1" height="5" fill="#fff" />
<rect x="470" y="457" width="4" height="6" fill="#fff" />
<rect x="471" y="465" width="1" height="4" fill="#fff" />
<rect x="476" y="457" width="4" height="6" fill="#fff" />
<rect x="477" y="465" width="1" height="4" fill="#fff" />
<rect x="482" y="457" width="4" height="6" fill="#fff" />
<rect x="483" y="465" width="1" height="4" fill="#fff" />
<rect x="488" y="457" width="4" height="6" fill="#fff" />
<rect x="489" y="465" width="1" height="4" fill="#fff" />
<rect x="494" y="457" width="4" height="6" fill="#fff" />
<rect x="495" y="465" width="2" height="4" fill="#fff" />
<rect x="500" y="457" width="4" height="6" fill="#fff" />
<rect x="501" y="465" width="1" height="4" fill="#fff" />
<rect x="505" y="457" width="4" height="6" fill="#fff" />
<rect x="506" y="465" width="1" height="4" fill="#fff" />
<rect x="511" y="457" width="4" height="6" fill="#fff" />
<rect x="512" y="465" width="1" height="4" fill="#fff" />
<rect x="512" y="463" width="1" height="3" fill="#fff" />
<rect x="517" y="457" width="4" height="6" fill="#fff" />
<rect x="518" y="465" width="1" height="4" fill="#fff" />
<rect x="518" y="463" width="1" height="3" fill="#fff" />
<rect x="523" y="457" width="4" height="6" fill="#fff" />
<rect x="524" y="465" width="2" height="4" fill="#fff" />
<rect x="524" y="463" width="1" height="3" fill="#fff" />
<rect x="529" y="457" width="4" height="6" fill="#fff" />
<rect x="530" y="465" width="1" height="4" fill="#fff" />
<rect x="535" y="457" width="4" height="6" fill="#fff" />
<rect x="536" y="465" width="1" height="4" fill="#fff" />
<rect x="541" y="457" width="4" height="6" fill="#fff" />
<rect x="542" y="465" width="1" height="4" fill="#fff" />
<rect x="547" y="457" width="4" height="6" fill="#fff" />
<rect x="548" y="465" width="1" height="4" fill="#fff" />
<rect x="553" y="457" width="4" height="6" fill="#fff" />
<rect x="554" y="465" width="2" height="4" fill="#fff" />
<rect x="558" y="457" width="4" height="6" fill="#fff" />
<rect x="559" y="465" width="1" height="4" fill="#fff" />
<rect x="564" y="457" width="4" height="6" fill="#fff" />
<rect x="565" y="465" width="1" height="4" fill="#fff" />
<rect x="570" y="457" width="4" height="6" fill="#fff" />
<rect x="571" y="465" width="1" height="4" fill="#fff" />
<rect x="576" y="457" width="4" height="6" fill="#fff" />
<rect x="577" y="465" width="1" height="4" fill="#fff" />
<rect x="582" y="457" width="4" height="6" fill="#fff" />
<rect x="583" y="465" width="2" height="4" fill="#fff" />
<rect x="588" y="457" width="4" height="6" fill="#fff" />
<rect x="589" y="465" width="1" height="4" fill="#fff" />
<rect x="589" y="463" width="1" height="3" fill="#fff" />
<rect x="594" y="457" width="4" height="6" fill="#fff" />
<rect x="595" y="465" width="1" height="4" fill="#fff" />
<rect x="595" y="463" width="1" height="3" fill="#fff" />
<rect x="600" y="457" width="4" height="6" fill="#fff" />
<rect x="601" y="465" width="1" height="4" fill="#fff" />
<rect x="606" y="457" width="4" height="6" fill="#fff" />
<rect x="607" y="465" width="1" height="4" fill="#fff" />
<rect x="612" y="457" width="4" height="6" fill="#fff" />
<rect x="613" y="465" width="2" height="4" fill="#fff" />
<rect x="618" y="457" width="4" height="6" fill="#fff" />
<rect x="619" y="465" width="1" height="4" fill="#fff" />
<rect x="623" y="457" width="4" height="6" fill="#fff" />
<rect x="624" y="465" width="1" height="4" fill="#fff" />
<rect x="629" y="457" width="4" height="6" fill="#fff" />
<rect x="630" y="465" width="1" height="4" fill="#fff" />
<rect x="635" y="457" width="4" height="6" fill="#fff" />
<rect x="636" y="465" width="1" height="4" fill="#fff" />
<rect x="646" y="457" width="10" height="1" fill="#000" />
<rect x="646" y="457" width="1" height="12" fill="#000" />
<rect x="646" y="468" width="3" height="1" fill="#000" />
<rect x="648" y="465" width="1" height="7" fill="#000" />
<rect x="648" y="465" width="7" height="1" fill="#000" />
<rect x="654" y="465" width="1" height="3" fill="#000" />
<rect x="654" y="467" width="3" height="1" fill="#000" />
<rect x="656" y="456" width="4" height="16" fill="#000" />
<rect x="659" y="458" width="8" height="1" fill="#000" />
<rect x="659" y="464" width="8" height="1" fill="#000" />
<rect x="441" y="492" width="225" height="2" fill="#000" />
<rect x="441" y="476" width="9" height="1" fill="#000" />
<rect x="441" y="483" width="9" height="1" fill="#000" />
<rect x="449" y="475" width="4" height="17" fill="#000" />
<rect x="453" y="476" width="9" height="1" fill="#000" />
<rect x="461" y="476" width="1" height="12" fill="#000" />
<rect x="459" y="487" width="3" height="1" fill="#000" />
<rect x="459" y="484" width="1" height="8" fill="#000" />
<rect x="455" y="484" width="5" height="1" fill="#000" />
<rect x="455" y="484" width="1" height="3" fill="#000" />
<rect x="453" y="486" width="3" height="1" fill="#000" />
<rect x="468" y="475" width="173" height="14" fill="#000" />
<rect x="466" y="476" width="3" height="7" fill="#000" />
<rect x="467" y="477" width="1" height="5" fill="#fff" />
<rect x="640" y="476" width="3" height="7" fill="#000" />
<rect x="641" y="477" width="1" height="5" fill="#fff" />
<rect x="470" y="476" width="4" height="6" fill="#fff" />
<rect x="471" y="484" width="1" height="4" fill="#fff" />
<rect x="476" y="476" width="4" height="6" fill="#fff" />
<rect x="477" y="484" width="1" height="4" fill="#fff" />
<rect x="482" y="476" width="4" height="6" fill="#fff" />
<rect x="483" y="484" width="1" height="4" fill="#fff" />
<rect x="488" y="476" width="4" height="6" fill="#fff" />
<rect x="489" y="484" width="1" height="4" fill="#fff" />
<rect x="494" y="476" width="4" height="6" fill="#fff" />
<rect x="495" y="484" width="2" height="4" fill="#fff" />
<rect x="500" y="476" width="4" height="6" fill="#fff" />
<rect x="501" y="484" width="1" height="4" fill="#fff" />
<rect x="505" y="476" width="4" height="6" fill="#fff" />
<rect x="506" y="484" width="1" height="4" fill="#fff" />
<rect x="511" y="476" width="4" height="6" fill="#fff" />
<rect x="512" y="484" width="1" height="4" fill="#fff" />
<rect x="512" y="482" width="1" height="3" fill="#fff" />
<rect x="517" y="476" width="4" height="6" fill="#fff" />
<rect x="518" y="484" width="1" height="4" fill="#fff" />
<rect x="518" y="482" width="1" height="3" fill="#fff" />
<rect x="523" y="476" width="4" height="6" fill="#fff" />
<rect x="524" y="484" width="2" height="4" fill="#fff" />
<rect x="524" y="482" width="1" height="3" fill="#fff" />
<rect x="529" y="476" width="4" height="6" fill="#fff" />
<rect x="530" y="484" width="1" height="4" fill="#fff" />
<rect x="535" y="476" width="4" height="6" fill="#fff" />
<rect x="536" y="484" width="1" height="4" fill="#fff" />
<rect x="541" y="476" width="4" height="6" fill="#fff" />
<rect x="542" y="484" width="1" height="4" fill="#fff" />
<rect x="547" y="476" width="4" height="6" fill="#fff" />
<rect x="548" y="484" width="1" height="4" fill="#fff" />
<rect x="553" y="476" width="4" height="6" fill="#fff" />
<rect x="554" y="484" width="2" height="4" fill="#fff" />
<rect x="558" y="476" width="4" height="6" fill="#fff" />
<rect x="559" y="484" width="1" height="4" fill="#fff" />
<rect x="564" y="476" width="4" height="6" fill="#fff" />
<rect x="565" y="484" width="1" height="4" fill="#fff" />
<rect x="570" y="476" width="4" height="6" fill="#fff" />
<rect x="571" y="484" width="1" height="4" fill="#fff" />
<rect x="576" y="476" width="4" height="6" fill="#fff" />
<rect x="577" y="484" width="1" height="4" fill="#fff" />
<rect x="582" y="476" width="4" height="6" fill="#fff" />
<rect x="583" y="484" width="2" height="4" fill="#fff" />
<rect x="588" y="476" width="4" height="6" fill="#fff" />
<rect x="589" y="484" width="1" height="4" fill="#fff" />
<rect x="589" y="482" width="1" height="3" fill="#fff" />
<rect x="594" y="476" width="4" height="6" fill="#fff" />
<rect x="595" y="484" width="1" height="4" fill="#fff" />
<rect x="595" y="482" width="1" height="3" fill="#fff" />
<rect x="600" y="476" width="4" height="6" fill="#fff" />
<rect x="601" y="484" width="1" height="4" fill="#fff" />
<rect x="606" y="476" width="4" height="6" fill="#fff" />
<rect x="607" y="484" width="1" height="4" fill="#fff" />
<rect x="612" y="476" width="4" height="6" fill="#fff" />
<rect x="613" y="484" width="2" height="4" fill="#fff" />
<rect x="618" y="476" width="4" height="6" fill="#fff" />
<rect x="619" y="484" width="1" height="4" fill="#fff" />
<rect x="623" y="476" width="4" height="6" fill="#fff" />
<rect x="624" y="484" width="1" height="4" fill="#fff" />
<rect x="629" y="476" width="4" height="6" fill="#fff" />
<rect x="630" y="484" width="1" height="4" fill="#fff" />
<rect x="635" y="476" width="4" height="6" fill="#fff" />
<rect x="636" y="484" width="1" height="4" fill="#fff" />
<rect x="646" y="476" width="10" height="1" fill="#000" />
<rect x="646" y="476" width="1" height="12" fill="#000" />
<rect x="646" y="487" width="3" height="1" fill="#000" />
<rect x="648" y="484" width="1" height="8" fill="#000" />
<rect x="648" y="484" width="7" height="1" fill="#000" />
<rect x="654" y="484" width="1" height="3" fill="#000" />
<rect x="654" y="486" width="3" height="1" fill="#000" />
<rect x="656" y="475" width="4" height="17" fill="#000" />
<rect x="659" y="477" width="8" height="1" fill="#000" />
<rect x="659" y="483" width="8" height="1" fill="#000" />
<rect x="441" y="496" width="9" height="1" fill="#000" />
<rect x="441" y="503" width="9" height="1" fill="#000" />
<rect x="449" y="495" width="4" height="16" fill="#000" />
<rect x="453" y="496" width="9" height="1" fill="#000" />
<rect x="461" y="496" width="1" height="12" fill="#000" />
<rect x="459" y="507" width="3" height="1" fill="#000" />
<rect x="459" y="504" width="1" height="7" fill="#000" />
<rect x="455" y="504" width="5" height="1" fill="#000" />
<rect x="455" y="504" width="1" height="3" fill="#000" />
<rect x="453" y="506" width="3" height="1" fill="#000" />
<rect x="468" y="495" width="173" height="14" fill="#000" />
<rect x="466" y="496" width="3" height="7" fill="#000" />
<rect x="467" y="497" width="1" height="5" fill="#fff" />
<rect x="640" y="496" width="3" height="7" fill="#000" />
<rect x="641" y="497" width="1" height="5" fill="#fff" />
<rect x="470" y="496" width="4" height="6" fill="#fff" />
<rect x="471" y="504" width="1" height="4" fill="#fff" />
<rect x="476" y="496" width="4" height="6" fill="#fff" />
<rect x="477" y="504" width="1" height="4" fill="#fff" />
<rect x="482" y="496" width="4" height="6" fill="#fff" />
<rect x="483" y="504" width="1" height="4" fill="#fff" />
<rect x="488" y="496" width="4" height="6" fill="#fff" />
<rect x="489" y="504" width="1" height="4" fill="#fff" />
<rect x="494" y="496" width="4" height="6" fill="#fff" />
<rect x="495" y="504" width="2" height="4" fill="#fff" />
<rect x="500" y="496" width="4" height="6" fill="#fff" />
<rect x="501" y="504" width="1" height="4" fill="#fff" />
<rect x="505" y="496" width="4" height="6" fill="#fff" />
<rect x="506" y="504" width="1" height="4" fill="#fff" />
<rect x="511" y="496" width="4" height="6" fill="#fff" />
<rect x="512" y="504" width="1" height="4" fill="#fff" />
<rect x="512" y="502" width="1" height="3" fill="#fff" />
<rect x="517" y="496" width="4" height="6" fill="#fff" />
<rect x="518" y="504" width="1" height="4" fill="#fff" />
<rect x="518" y="502" width="1" height="3" fill="#fff" />
<rect x="523" y="496" width="4" height="6" fill="#fff" />
<rect x="524" y="504" width="2" height="4" fill="#fff" />
<rect x="524" y="502" width="1" height="3" fill="#fff" />
<rect x="529" y="496" width="4" height="6" fill="#fff" />
<rect x="530" y="504" width="1" height="4" fill="#fff" />
<rect x="535" y="496" width="4" height="6" fill="#fff" />
<rect x="536" y="504" width="1" height="4" fill="#fff" />
<rect x="541" y="496" width="4" height="6" fill="#fff" />
<rect x="542" y="504" width="1" height="4" fill="#fff" />
<rect x="547" y="496" width="4" height="6" fill="#fff" />
<rect x="548" y="504" width="1" height="4" fill="#fff" />
<rect x="553" y="496" width="4" height="6" fill="#fff" />
<rect x="554" y="504" width="2" height="4" fill="#fff" />
<rect x="558" y="496" width="4" height="6" fill="#fff" />
<rect x="559" y="504" width="1" height="4" fill="#fff" />
<rect x="564" y="496" width="4" height="6" fill="#fff" />
<rect x="565" y="504" width="1" height="4" fill="#fff" />
<rect x="570" y="496" width="4" height="6" fill="#fff" />
<rect x="571" y="504" width="1" height="4" fill="#fff" />
<rect x="576" y="496" width="4" height="6" fill="#fff" />
<rect x="577" y="504" width="1" height="4" fill="#fff" />
<rect x="582" y="496" width="4" height="6" fill="#fff" />
<rect x="583" y="504" width="2" height="4" fill="#fff" />
<rect x="588" y="496" width="4" height="6" fill="#fff" />
<rect x="589" y="504" width="1" height="4" fill="#fff" />
<rect x="589" y="502" width="1" height="3" fill="#fff" />
<rect x="594" y="496" width="4" height="6" fill="#fff" />
<rect x="595" y="504" width="1" height="4" fill="#fff" />
<rect x="595" y="502" width="1" height="3" fill="#fff" />
<rect x="600" y="496" width="4" height="6" fill="#fff" />
<rect x="601" y="504" width="1" height="4" fill="#fff" />
<rect x="606" y="496" width="4" height="6" fill="#fff" />
<rect x="607" y="504" width="1" height="4" fill="#fff" />
<rect x="612" y="496" width="4" height="6" fill="#fff" />
<rect x="613" y="504" width="2" height="4" fill="#fff" />
<rect x="618" y="496" width="4" height="6" fill="#fff" />
<rect x="619" y="504" width="1" height="4" fill="#fff" />
<rect x="623" y="496" width="4" height="6" fill="#fff" />
<rect x="624" y="504" width="1" height="4" fill="#fff" />
<rect x="629" y="496" width="4" height="6" fill="#fff" />
<rect x="630" y="504" width="1" height="4" fill="#fff" />
<rect x="635" y="496" width="4" height="6" fill="#fff" />
<rect x="636" y="504" width="1" height="4" fill="#fff" />
<rect x="646" y="496" width="10" height="1" fill="#000" />
<rect x="646" y="496" width="1" height="12" fill="#000" />
<rect x="646" y="507" width="3" height="1" fill="#000" />
<rect x="648" y="504" width="1" height="7" fill="#000" />
<rect x="648" y="504" width="7" height="1" fill="#000" />
<rect x="654" y="504" width="1" height="3" fill="#000" />
<rect x="654" y="506" width="3" height="1" fill="#000" />
<rect x="656" y="495" width="4" height="16" fill="#000" />
<rect x="659" y="497" width="8" height="1" fill="#000" />
<rect x="659" y="503" width="8" height="1" fill="#000" />
<rect x="525" y="387.5" width="58.5" height="16" rx="2.5" fill="#000" shape-rendering="auto"/>
<rect x="526.2" y="388.7" width="55.5" height="13" rx="1" fill="#fff" shape-rendering="auto"/>
<text transform="scale(0.8,1)" x="666.12 675.94 686.31 698.19 709.12 717.37" y="399.8" font-size="13" fill="#000" text-anchor="middle" stroke="#000" stroke-width="0.25">BANK 1</text>
<rect x="525" y="465" width="58.5" height="16" rx="2.5" fill="#000" shape-rendering="auto"/>
<rect x="526.2" y="466.2" width="55.5" height="13" rx="1" fill="#fff" shape-rendering="auto"/>
<text transform="scale(0.8,1)" x="667.06 676.88 687.19 699.44 709.56 718.00" y="477" font-size="13" fill="#000" text-anchor="middle" stroke="#000" stroke-width="0.25">BANK 0</text>
<path d="M674,378H682V379H689V380H701V379H708V378H716V505H674Z" fill="#000" stroke="none" stroke-width="1" />
<rect x="714" y="381" width="1" height="4" fill="#fff" />
<rect x="714" y="387" width="1" height="3" fill="#fff" />
<rect x="714" y="393" width="1" height="4" fill="#fff" />
<rect x="714" y="400" width="1" height="3" fill="#fff" />
<rect x="714" y="406" width="1" height="4" fill="#fff" />
<rect x="714" y="412" width="1" height="3" fill="#fff" />
<rect x="714" y="418" width="1" height="4" fill="#fff" />
<rect x="714" y="424" width="1" height="3" fill="#fff" />
<rect x="714" y="431" width="1" height="4" fill="#fff" />
<rect x="714" y="437" width="1" height="3" fill="#fff" />
<rect x="714" y="443" width="1" height="4" fill="#fff" />
<rect x="714" y="449" width="1" height="3" fill="#fff" />
<rect x="714" y="455" width="1" height="4" fill="#fff" />
<rect x="714" y="462" width="1" height="3" fill="#fff" />
<rect x="714" y="468" width="1" height="4" fill="#fff" />
<rect x="714" y="474" width="1" height="3" fill="#fff" />
<rect x="714" y="480" width="1" height="4" fill="#fff" />
<rect x="714" y="486" width="1" height="3" fill="#fff" />
<rect x="714" y="493" width="1" height="4" fill="#fff" />
<rect x="714" y="499" width="1" height="3" fill="#fff" />
<rect x="681" y="435" width="28" height="14" fill="#fff" />
<text transform="scale(0.8,1)" x="857.62 868.81 880.81" y="444.9" font-size="13" fill="#000" text-anchor="middle" stroke="#000" stroke-width="0.25">KBD</text>
<rect x="721" y="383" width="25" height="112" fill="#000" />
<rect x="722" y="384" width="23" height="110" fill="#fff" />
<rect x="725" y="384" width="7" height="2" fill="#000" />
<path d="M726.3,383.8H730.7L728.5,386.6Z" fill="#fff" stroke="none" stroke-width="1" shape-rendering="auto"/>
<rect x="737" y="384" width="1" height="110" fill="#000" />
<rect x="725" y="389" width="7" height="7" fill="#000" />
<rect x="726" y="390" width="5" height="5" fill="#fff" />
<rect x="733" y="385" width="3" height="7" fill="#000" />
<rect x="734" y="387" width="1" height="1" fill="#fff" />
<rect x="734" y="389" width="1" height="1" fill="#fff" />
<rect x="740" y="385" width="2" height="7" fill="#000" />
<rect x="738" y="386" width="5" height="4" fill="#000" />
<rect x="725" y="399" width="7" height="7" fill="#000" />
<rect x="726" y="400" width="5" height="5" fill="#fff" />
<rect x="733" y="395" width="3" height="7" fill="#000" />
<rect x="734" y="396" width="1" height="1" fill="#fff" />
<rect x="734" y="398" width="1" height="1" fill="#fff" />
<rect x="734" y="400" width="1" height="1" fill="#fff" />
<rect x="740" y="395" width="2" height="7" fill="#000" />
<rect x="738" y="396" width="5" height="4" fill="#000" />
<rect x="725" y="408" width="7" height="7" fill="#000" />
<rect x="726" y="409" width="5" height="5" fill="#fff" />
<rect x="733" y="404" width="3" height="7" fill="#000" />
<rect x="734" y="405" width="1" height="1" fill="#fff" />
<rect x="734" y="407" width="1" height="1" fill="#fff" />
<rect x="734" y="409" width="1" height="1" fill="#fff" />
<rect x="740" y="404" width="2" height="7" fill="#000" />
<rect x="738" y="405" width="5" height="4" fill="#000" />
<rect x="725" y="417" width="7" height="7" fill="#000" />
<rect x="726" y="418" width="5" height="5" fill="#fff" />
<rect x="733" y="413" width="3" height="7" fill="#000" />
<rect x="734" y="414" width="1" height="1" fill="#fff" />
<rect x="734" y="416" width="1" height="1" fill="#fff" />
<rect x="734" y="418" width="1" height="1" fill="#fff" />
<rect x="740" y="413" width="2" height="7" fill="#000" />
<rect x="738" y="414" width="5" height="4" fill="#000" />
<rect x="725" y="426" width="7" height="7" fill="#000" />
<rect x="726" y="427" width="5" height="5" fill="#fff" />
<rect x="733" y="422" width="3" height="7" fill="#000" />
<rect x="734" y="423" width="1" height="1" fill="#fff" />
<rect x="734" y="425" width="1" height="1" fill="#fff" />
<rect x="734" y="427" width="1" height="1" fill="#fff" />
<rect x="740" y="422" width="2" height="7" fill="#000" />
<rect x="738" y="423" width="5" height="4" fill="#000" />
<rect x="725" y="436" width="7" height="7" fill="#000" />
<rect x="726" y="437" width="5" height="5" fill="#fff" />
<rect x="733" y="432" width="3" height="7" fill="#000" />
<rect x="734" y="433" width="1" height="1" fill="#fff" />
<rect x="734" y="435" width="1" height="1" fill="#fff" />
<rect x="734" y="437" width="1" height="1" fill="#fff" />
<rect x="740" y="432" width="2" height="7" fill="#000" />
<rect x="738" y="433" width="5" height="4" fill="#000" />
<rect x="725" y="445" width="7" height="7" fill="#000" />
<rect x="726" y="446" width="5" height="5" fill="#fff" />
<rect x="733" y="441" width="3" height="7" fill="#000" />
<rect x="734" y="442" width="1" height="1" fill="#fff" />
<rect x="734" y="444" width="1" height="1" fill="#fff" />
<rect x="734" y="446" width="1" height="1" fill="#fff" />
<rect x="740" y="441" width="2" height="7" fill="#000" />
<rect x="738" y="442" width="5" height="4" fill="#000" />
<rect x="725" y="454" width="7" height="7" fill="#000" />
<rect x="726" y="455" width="5" height="5" fill="#fff" />
<rect x="733" y="450" width="3" height="7" fill="#000" />
<rect x="734" y="451" width="1" height="1" fill="#fff" />
<rect x="734" y="453" width="1" height="1" fill="#fff" />
<rect x="734" y="455" width="1" height="1" fill="#fff" />
<rect x="740" y="450" width="2" height="7" fill="#000" />
<rect x="738" y="451" width="5" height="4" fill="#000" />
<rect x="725" y="464" width="7" height="7" fill="#000" />
<rect x="726" y="465" width="5" height="5" fill="#fff" />
<rect x="733" y="460" width="3" height="7" fill="#000" />
<rect x="734" y="461" width="1" height="1" fill="#fff" />
<rect x="734" y="463" width="1" height="1" fill="#fff" />
<rect x="734" y="465" width="1" height="1" fill="#fff" />
<rect x="740" y="460" width="2" height="7" fill="#000" />
<rect x="738" y="461" width="5" height="4" fill="#000" />
<rect x="725" y="473" width="7" height="7" fill="#000" />
<rect x="726" y="474" width="5" height="5" fill="#fff" />
<rect x="733" y="469" width="3" height="7" fill="#000" />
<rect x="734" y="470" width="1" height="1" fill="#fff" />
<rect x="734" y="472" width="1" height="1" fill="#fff" />
<rect x="734" y="474" width="1" height="1" fill="#fff" />
<rect x="740" y="469" width="2" height="7" fill="#000" />
<rect x="738" y="470" width="5" height="4" fill="#000" />
<rect x="725" y="483" width="7" height="7" fill="#000" />
<rect x="726" y="484" width="5" height="5" fill="#fff" />
<rect x="733" y="479" width="3" height="7" fill="#000" />
<rect x="734" y="480" width="1" height="1" fill="#fff" />
<rect x="734" y="482" width="1" height="1" fill="#fff" />
<rect x="734" y="484" width="1" height="1" fill="#fff" />
<rect x="740" y="479" width="2" height="7" fill="#000" />
<rect x="738" y="480" width="5" height="4" fill="#000" />
<rect x="733" y="488" width="3" height="7" fill="#000" />
<rect x="734" y="489" width="1" height="1" fill="#fff" />
<rect x="734" y="491" width="1" height="1" fill="#fff" />
<rect x="734" y="493" width="1" height="1" fill="#fff" />
<rect x="740" y="488" width="2" height="7" fill="#000" />
<rect x="738" y="489" width="5" height="4" fill="#000" />
<rect x="726" y="493" width="4" height="2" fill="#fff" />
<rect x="727" y="493" width="1" height="1" fill="#000" />
<path d="M755,411H779V407H782V404H786V455H782V453H779V448H755Z" fill="#000" stroke="none" stroke-width="1" />
<rect x="753" y="417" width="2" height="24" fill="#000" />
<rect x="754" y="419" width="1" height="1" fill="#fff" />
<rect x="754" y="421" width="1" height="1" fill="#fff" />
<rect x="754" y="423" width="1" height="1" fill="#fff" />
<rect x="754" y="425" width="1" height="1" fill="#fff" />
<rect x="754" y="432" width="1" height="1" fill="#fff" />
<rect x="754" y="434" width="1" height="1" fill="#fff" />
<rect x="754" y="436" width="1" height="1" fill="#fff" />
<rect x="754" y="438" width="1" height="1" fill="#fff" />
<rect x="749" y="420" width="5" height="8" fill="#000" />
<rect x="750" y="421" width="3" height="6" fill="#fff" />
<rect x="749" y="431" width="5" height="9" fill="#000" />
<rect x="750" y="432" width="3" height="7" fill="#fff" />
</svg>
</body>
</html>
